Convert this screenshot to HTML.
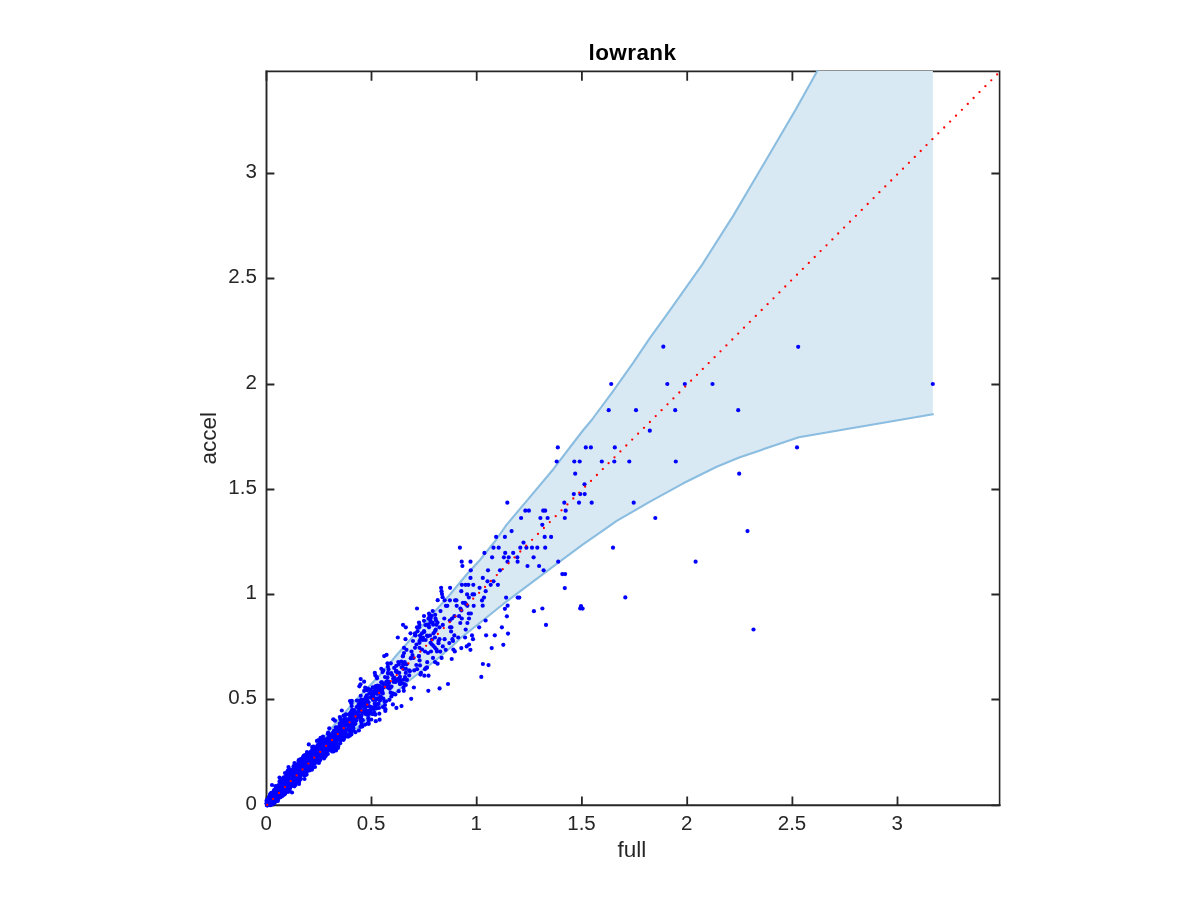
<!DOCTYPE html>
<html lang="en"><head><meta charset="utf-8"><title>lowrank</title>
<style>html,body{margin:0;padding:0;background:#fff;}body{width:1200px;height:900px;overflow:hidden;}svg{display:block;}text{font-family:"Liberation Sans",sans-serif;}.tk{font-size:20.5px;fill:#262626;}.lb{font-size:22.5px;fill:#262626;}.tt{font-size:22.5px;letter-spacing:0.4px;font-weight:bold;fill:#000;}</style></head><body>
<svg width="1200" height="900" viewBox="0 0 1200 900">
<rect width="1200" height="900" fill="#fff"/>
<g stroke="#262626" fill="none" stroke-linecap="square">
<path stroke-width="1.6" d="M266.5 71.4H999.6V805.3"/>
<path stroke-width="1.9" d="M266.5 71.4V805.3H999.6"/>
</g>
<g stroke="#262626" stroke-width="1.8" fill="none" stroke-linecap="butt">
<path d="M266.5 805.3V796.4M266.5 71.4V80.7M371.5 805.3V796.4M371.5 71.4V80.7M476.7 805.3V796.4M476.7 71.4V80.7M581.9 805.3V796.4M581.9 71.4V80.7M687.2 805.3V796.4M687.2 71.4V80.7M792.4 805.3V796.4M792.4 71.4V80.7M897.5 805.3V796.4M897.5 71.4V80.7M266.5 805.3H274.4M999.6 805.3H991.4M266.5 699.5H274.4M999.6 699.5H991.4M266.5 594.5H274.4M999.6 594.5H991.4M266.5 489.5H274.4M999.6 489.5H991.4M266.5 384.5H274.4M999.6 384.5H991.4M266.5 278.5H274.4M999.6 278.5H991.4M266.5 173.5H274.4M999.6 173.5H991.4"/>
</g>
<path fill="#D9E9F4" d="M266.5 805.3 L320 742 L341 717 L356.7 699.2 L380 675 L396.7 655 L410 640 L430 617 L450 594.5 L467.5 573.5 L480 560 L496 540 L506.7 524.7 L528 499.3 L553.3 469.2 L573.3 443 L583.3 430 L591.7 420 L613.3 390.8 L633.3 362.7 L650 337.9 L671.1 308.6 L702.2 264.6 L733.3 215.6 L764.5 162.7 L795.6 109.8 L817.3 70.9 L932.9 70.9 L932.9 414.3 L798.8 437.2 L739.2 457.5 L716.7 466.7 L683.3 483.3 L650 501.7 L616.7 520.8 L600 532.7 L583.3 544.2 L560 561.3 L533.3 581.3 L506.7 601.3 L480 622.7 L460 638.5 L453.3 645.3 L436 660 L406.7 682.5 L380 706.7 L356.7 728.3 L338 744 L325 755 L266.5 805.3 Z"/>
<g fill="none" stroke="#8ABDE0" stroke-width="2.1" stroke-linejoin="round" stroke-linecap="round">
<path d="M266.5 805.3 L320 742 L341 717 L356.7 699.2 L380 675 L396.7 655 L410 640 L430 617 L450 594.5 L467.5 573.5 L480 560 L496 540 L506.7 524.7 L528 499.3 L553.3 469.2 L573.3 443 L583.3 430 L591.7 420 L613.3 390.8 L633.3 362.7 L650 337.9 L671.1 308.6 L702.2 264.6 L733.3 215.6 L764.5 162.7 L795.6 109.8 L817.3 70.9"/>
<path d="M266.5 805.3 L325 755 L338 744 L356.7 728.3 L380 706.7 L406.7 682.5 L436 660 L453.3 645.3 L460 638.5 L480 622.7 L506.7 601.3 L533.3 581.3 L560 561.3 L583.3 544.2 L600 532.7 L616.7 520.8 L650 501.7 L683.3 483.3 L716.7 466.7 L739.2 457.5 L798.8 437.2 L932.9 414.3"/>
</g>
<g fill="#0000FF">
<circle cx="798.2" cy="346.8" r="2.1"/>
<circle cx="712.5" cy="384" r="2.1"/>
<circle cx="932.8" cy="384" r="2.1"/>
<circle cx="738.2" cy="410.2" r="2.1"/>
<circle cx="797" cy="447.4" r="2.1"/>
<circle cx="739.2" cy="473.7" r="2.1"/>
<circle cx="663.3" cy="346.7" r="2.1"/>
<circle cx="611.2" cy="384" r="2.1"/>
<circle cx="667.3" cy="384" r="2.1"/>
<circle cx="684.8" cy="384" r="2.1"/>
<circle cx="608.7" cy="410.2" r="2.1"/>
<circle cx="636" cy="410.2" r="2.1"/>
<circle cx="675.2" cy="410.2" r="2.1"/>
<circle cx="649.8" cy="430.7" r="2.1"/>
<circle cx="557.8" cy="447.4" r="2.1"/>
<circle cx="585.8" cy="447.4" r="2.1"/>
<circle cx="590.9" cy="447.4" r="2.1"/>
<circle cx="614.8" cy="447.4" r="2.1"/>
<circle cx="556.7" cy="461.5" r="2.1"/>
<circle cx="574.3" cy="461.5" r="2.1"/>
<circle cx="579.7" cy="461.5" r="2.1"/>
<circle cx="601.8" cy="461.5" r="2.1"/>
<circle cx="614.3" cy="461.5" r="2.1"/>
<circle cx="629.3" cy="461.5" r="2.1"/>
<circle cx="675.8" cy="461.5" r="2.1"/>
<circle cx="575.2" cy="473.7" r="2.1"/>
<circle cx="584.5" cy="484.3" r="2.1"/>
<circle cx="573.8" cy="494.1" r="2.1"/>
<circle cx="580.3" cy="494.1" r="2.1"/>
<circle cx="584.7" cy="494.1" r="2.1"/>
<circle cx="564.3" cy="502.7" r="2.1"/>
<circle cx="579" cy="502.7" r="2.1"/>
<circle cx="591.7" cy="502.7" r="2.1"/>
<circle cx="633.7" cy="502.7" r="2.1"/>
<circle cx="565.7" cy="510.7" r="2.1"/>
<circle cx="564.8" cy="518" r="2.1"/>
<circle cx="655.3" cy="518" r="2.1"/>
<circle cx="747.5" cy="531.1" r="2.1"/>
<circle cx="551.1" cy="536.9" r="2.1"/>
<circle cx="613" cy="547.7" r="2.1"/>
<circle cx="558.2" cy="561.7" r="2.1"/>
<circle cx="695.6" cy="561.7" r="2.1"/>
<circle cx="562.3" cy="574.1" r="2.1"/>
<circle cx="565.1" cy="574.1" r="2.1"/>
<circle cx="564.8" cy="588.1" r="2.1"/>
<circle cx="625.3" cy="597.4" r="2.1"/>
<circle cx="581" cy="606" r="2.1"/>
<circle cx="582.6" cy="608.6" r="2.1"/>
<circle cx="580.2" cy="608.4" r="2.1"/>
<circle cx="753.5" cy="629.5" r="2.1"/>
<circle cx="507.3" cy="502.7" r="2.1"/>
<circle cx="525.3" cy="510.7" r="2.1"/>
<circle cx="528.9" cy="510.7" r="2.1"/>
<circle cx="543.2" cy="510.7" r="2.1"/>
<circle cx="545.2" cy="510.7" r="2.1"/>
<circle cx="521.1" cy="518" r="2.1"/>
<circle cx="540.4" cy="518" r="2.1"/>
<circle cx="547.6" cy="518" r="2.1"/>
<circle cx="542.3" cy="524.8" r="2.1"/>
<circle cx="511.6" cy="531.1" r="2.1"/>
<circle cx="496.1" cy="536.9" r="2.1"/>
<circle cx="504.9" cy="536.9" r="2.1"/>
<circle cx="544.7" cy="536.9" r="2.1"/>
<circle cx="523.5" cy="542.6" r="2.1"/>
<circle cx="459.9" cy="547.7" r="2.1"/>
<circle cx="493.5" cy="547.7" r="2.1"/>
<circle cx="498.7" cy="547.7" r="2.1"/>
<circle cx="520.3" cy="547.7" r="2.1"/>
<circle cx="526.4" cy="547.7" r="2.1"/>
<circle cx="532" cy="547.7" r="2.1"/>
<circle cx="537.3" cy="547.7" r="2.1"/>
<circle cx="545.2" cy="547.7" r="2.1"/>
<circle cx="484.4" cy="552.9" r="2.1"/>
<circle cx="505.2" cy="552.9" r="2.1"/>
<circle cx="513.2" cy="552.9" r="2.1"/>
<circle cx="492.1" cy="557.3" r="2.1"/>
<circle cx="503.9" cy="557.3" r="2.1"/>
<circle cx="508.7" cy="557.3" r="2.1"/>
<circle cx="517.3" cy="557.3" r="2.1"/>
<circle cx="533.6" cy="557.3" r="2.1"/>
<circle cx="461.7" cy="561.7" r="2.1"/>
<circle cx="470.5" cy="561.7" r="2.1"/>
<circle cx="507.5" cy="561.7" r="2.1"/>
<circle cx="517.6" cy="561.7" r="2.1"/>
<circle cx="462.4" cy="566" r="2.1"/>
<circle cx="527.5" cy="566" r="2.1"/>
<circle cx="539.1" cy="566" r="2.1"/>
<circle cx="470.8" cy="570.3" r="2.1"/>
<circle cx="488" cy="570.3" r="2.1"/>
<circle cx="500" cy="570.3" r="2.1"/>
<circle cx="543.6" cy="570.3" r="2.1"/>
<circle cx="470.5" cy="577.9" r="2.1"/>
<circle cx="482.8" cy="577.9" r="2.1"/>
<circle cx="487.5" cy="581.3" r="2.1"/>
<circle cx="493.5" cy="581.3" r="2.1"/>
<circle cx="461.9" cy="584.8" r="2.1"/>
<circle cx="465.6" cy="584.8" r="2.1"/>
<circle cx="468.3" cy="584.8" r="2.1"/>
<circle cx="473.3" cy="584.8" r="2.1"/>
<circle cx="490.7" cy="584.8" r="2.1"/>
<circle cx="497.9" cy="584.8" r="2.1"/>
<circle cx="441.1" cy="587.8" r="2.1"/>
<circle cx="450.1" cy="587.8" r="2.1"/>
<circle cx="479.6" cy="587.8" r="2.1"/>
<circle cx="441.5" cy="591.2" r="2.1"/>
<circle cx="461.3" cy="591.2" r="2.1"/>
<circle cx="485.7" cy="591.2" r="2.1"/>
<circle cx="442" cy="594.1" r="2.1"/>
<circle cx="467.1" cy="594.4" r="2.1"/>
<circle cx="472.5" cy="594.4" r="2.1"/>
<circle cx="474.1" cy="594.4" r="2.1"/>
<circle cx="442.6" cy="597.2" r="2.1"/>
<circle cx="468.9" cy="597.5" r="2.1"/>
<circle cx="484" cy="597.6" r="2.1"/>
<circle cx="506.1" cy="597.6" r="2.1"/>
<circle cx="517.7" cy="597.6" r="2.1"/>
<circle cx="519.3" cy="597.6" r="2.1"/>
<circle cx="444.7" cy="600.3" r="2.1"/>
<circle cx="449.9" cy="600.3" r="2.1"/>
<circle cx="455.1" cy="600.3" r="2.1"/>
<circle cx="456.4" cy="600.3" r="2.1"/>
<circle cx="482" cy="600.4" r="2.1"/>
<circle cx="437.7" cy="600.2" r="2.1"/>
<circle cx="462.9" cy="602.8" r="2.1"/>
<circle cx="464.9" cy="602.8" r="2.1"/>
<circle cx="466.2" cy="604.4" r="2.1"/>
<circle cx="445.9" cy="605.8" r="2.1"/>
<circle cx="447.3" cy="605.8" r="2.1"/>
<circle cx="456.7" cy="605.8" r="2.1"/>
<circle cx="467.4" cy="605.8" r="2.1"/>
<circle cx="473.7" cy="605.8" r="2.1"/>
<circle cx="482.7" cy="605.7" r="2.1"/>
<circle cx="507.6" cy="605.7" r="2.1"/>
<circle cx="460.4" cy="608.5" r="2.1"/>
<circle cx="504.9" cy="608.8" r="2.1"/>
<circle cx="542.4" cy="608.5" r="2.1"/>
<circle cx="417" cy="608.5" r="2.1"/>
<circle cx="461.4" cy="610.4" r="2.1"/>
<circle cx="440.5" cy="611.1" r="2.1"/>
<circle cx="533.9" cy="611.2" r="2.1"/>
<circle cx="432.7" cy="611" r="2.1"/>
<circle cx="468.8" cy="613.5" r="2.1"/>
<circle cx="470.9" cy="613.5" r="2.1"/>
<circle cx="429" cy="613.5" r="2.1"/>
<circle cx="454.4" cy="616.2" r="2.1"/>
<circle cx="459.1" cy="616.2" r="2.1"/>
<circle cx="506.9" cy="616.3" r="2.1"/>
<circle cx="424" cy="616" r="2.1"/>
<circle cx="429.5" cy="616" r="2.1"/>
<circle cx="444.3" cy="618.5" r="2.1"/>
<circle cx="452" cy="618.5" r="2.1"/>
<circle cx="461.8" cy="618.5" r="2.1"/>
<circle cx="469" cy="618.5" r="2.1"/>
<circle cx="428.5" cy="618.5" r="2.1"/>
<circle cx="430.5" cy="618.5" r="2.1"/>
<circle cx="435.5" cy="618.5" r="2.1"/>
<circle cx="449.8" cy="620.6" r="2.1"/>
<circle cx="485.6" cy="620.5" r="2.1"/>
<circle cx="424" cy="620.8" r="2.1"/>
<circle cx="436" cy="620.5" r="2.1"/>
<circle cx="460.3" cy="623" r="2.1"/>
<circle cx="467.4" cy="623" r="2.1"/>
<circle cx="419" cy="622.5" r="2.1"/>
<circle cx="430.5" cy="622.5" r="2.1"/>
<circle cx="432.5" cy="622.5" r="2.1"/>
<circle cx="437.5" cy="622.5" r="2.1"/>
<circle cx="442.8" cy="624.9" r="2.1"/>
<circle cx="546" cy="624.9" r="2.1"/>
<circle cx="403" cy="624.8" r="2.1"/>
<circle cx="419.5" cy="624.8" r="2.1"/>
<circle cx="428" cy="624.8" r="2.1"/>
<circle cx="436.5" cy="624.8" r="2.1"/>
<circle cx="450" cy="627.3" r="2.1"/>
<circle cx="451.4" cy="627.3" r="2.1"/>
<circle cx="479.2" cy="627.3" r="2.1"/>
<circle cx="501.9" cy="627.3" r="2.1"/>
<circle cx="405.8" cy="627.3" r="2.1"/>
<circle cx="417" cy="627.3" r="2.1"/>
<circle cx="419" cy="627.3" r="2.1"/>
<circle cx="429" cy="627.3" r="2.1"/>
<circle cx="439.5" cy="627.3" r="2.1"/>
<circle cx="465.7" cy="629.6" r="2.1"/>
<circle cx="435.8" cy="629.7" r="2.1"/>
<circle cx="451.1" cy="631.5" r="2.1"/>
<circle cx="417.5" cy="631.2" r="2.1"/>
<circle cx="424" cy="631.2" r="2.1"/>
<circle cx="435" cy="631.2" r="2.1"/>
<circle cx="508" cy="633.6" r="2.1"/>
<circle cx="410.5" cy="633.3" r="2.1"/>
<circle cx="415" cy="633.3" r="2.1"/>
<circle cx="422" cy="633.3" r="2.1"/>
<circle cx="433.5" cy="633.3" r="2.1"/>
<circle cx="454.3" cy="635.4" r="2.1"/>
<circle cx="472" cy="635.4" r="2.1"/>
<circle cx="486.1" cy="635.3" r="2.1"/>
<circle cx="494.8" cy="635.3" r="2.1"/>
<circle cx="415.5" cy="635.5" r="2.1"/>
<circle cx="420" cy="635.5" r="2.1"/>
<circle cx="427" cy="635.5" r="2.1"/>
<circle cx="430" cy="635.5" r="2.1"/>
<circle cx="458.2" cy="637.5" r="2.1"/>
<circle cx="465.1" cy="637.5" r="2.1"/>
<circle cx="397.8" cy="637.5" r="2.1"/>
<circle cx="421" cy="637.5" r="2.1"/>
<circle cx="423" cy="637.5" r="2.1"/>
<circle cx="435" cy="637.5" r="2.1"/>
<circle cx="444.6" cy="639.2" r="2.1"/>
<circle cx="452.4" cy="639.2" r="2.1"/>
<circle cx="473" cy="639.2" r="2.1"/>
<circle cx="405.5" cy="639.2" r="2.1"/>
<circle cx="420.5" cy="639.2" r="2.1"/>
<circle cx="432" cy="639.5" r="2.1"/>
<circle cx="439.5" cy="639.2" r="2.1"/>
<circle cx="453" cy="641" r="2.1"/>
<circle cx="413" cy="641" r="2.1"/>
<circle cx="438.5" cy="641" r="2.1"/>
<circle cx="449.3" cy="643.1" r="2.1"/>
<circle cx="419.5" cy="642.8" r="2.1"/>
<circle cx="430.5" cy="642.8" r="2.1"/>
<circle cx="438.5" cy="643.2" r="2.1"/>
<circle cx="469" cy="644.6" r="2.1"/>
<circle cx="503.3" cy="644.8" r="2.1"/>
<circle cx="416.5" cy="644.5" r="2.1"/>
<circle cx="432" cy="644.5" r="2.1"/>
<circle cx="442.8" cy="646.4" r="2.1"/>
<circle cx="466.7" cy="646.4" r="2.1"/>
<circle cx="433.5" cy="646" r="2.1"/>
<circle cx="461.3" cy="648.1" r="2.1"/>
<circle cx="491.7" cy="648.1" r="2.1"/>
<circle cx="404" cy="647.8" r="2.1"/>
<circle cx="415" cy="647.8" r="2.1"/>
<circle cx="419.5" cy="647.8" r="2.1"/>
<circle cx="435" cy="647.8" r="2.1"/>
<circle cx="445.7" cy="649.8" r="2.1"/>
<circle cx="453.4" cy="649.5" r="2.1"/>
<circle cx="470.4" cy="649.8" r="2.1"/>
<circle cx="406.5" cy="649.8" r="2.1"/>
<circle cx="422" cy="649.5" r="2.1"/>
<circle cx="436.5" cy="649.5" r="2.1"/>
<circle cx="454.8" cy="651.4" r="2.1"/>
<circle cx="440.3" cy="651.6" r="2.1"/>
<circle cx="411.5" cy="651.5" r="2.1"/>
<circle cx="425" cy="651.5" r="2.1"/>
<circle cx="431" cy="651.5" r="2.1"/>
<circle cx="437" cy="651.5" r="2.1"/>
<circle cx="404" cy="653" r="2.1"/>
<circle cx="428" cy="653" r="2.1"/>
<circle cx="386.6" cy="654.8" r="2.1"/>
<circle cx="384.2" cy="656.1" r="2.1"/>
<circle cx="403" cy="656" r="2.1"/>
<circle cx="412.5" cy="655" r="2.1"/>
<circle cx="419" cy="656" r="2.1"/>
<circle cx="402.9" cy="656.3" r="2.1"/>
<circle cx="418.8" cy="656.3" r="2.1"/>
<circle cx="441.6" cy="657.9" r="2.1"/>
<circle cx="433" cy="657.9" r="2.1"/>
<circle cx="411" cy="658" r="2.1"/>
<circle cx="413.5" cy="658" r="2.1"/>
<circle cx="410.8" cy="658.3" r="2.1"/>
<circle cx="451.7" cy="659" r="2.1"/>
<circle cx="419.6" cy="660.4" r="2.1"/>
<circle cx="435" cy="662.1" r="2.1"/>
<circle cx="427.2" cy="662.2" r="2.1"/>
<circle cx="398.3" cy="662.1" r="2.1"/>
<circle cx="401.3" cy="661.7" r="2.1"/>
<circle cx="404.6" cy="662.1" r="2.1"/>
<circle cx="437.6" cy="663.7" r="2.1"/>
<circle cx="387.5" cy="663.3" r="2.1"/>
<circle cx="390.8" cy="663.3" r="2.1"/>
<circle cx="482.9" cy="664" r="2.1"/>
<circle cx="403.3" cy="664.6" r="2.1"/>
<circle cx="416.3" cy="665" r="2.1"/>
<circle cx="420" cy="665.4" r="2.1"/>
<circle cx="488.5" cy="665.1" r="2.1"/>
<circle cx="396.3" cy="665.8" r="2.1"/>
<circle cx="387.9" cy="666.7" r="2.1"/>
<circle cx="426.3" cy="667.6" r="2.1"/>
<circle cx="394.2" cy="667.9" r="2.1"/>
<circle cx="401.7" cy="667.5" r="2.1"/>
<circle cx="381.3" cy="668.8" r="2.1"/>
<circle cx="425" cy="669.2" r="2.1"/>
<circle cx="417.1" cy="669.2" r="2.1"/>
<circle cx="383.3" cy="670.4" r="2.1"/>
<circle cx="409.2" cy="670.4" r="2.1"/>
<circle cx="414.2" cy="670.4" r="2.1"/>
<circle cx="396.3" cy="670.8" r="2.1"/>
<circle cx="382.5" cy="672.1" r="2.1"/>
<circle cx="421" cy="672.8" r="2.1"/>
<circle cx="387.9" cy="672.9" r="2.1"/>
<circle cx="374.8" cy="672.9" r="2.1"/>
<circle cx="399.2" cy="672.9" r="2.1"/>
<circle cx="405.8" cy="672.9" r="2.1"/>
<circle cx="420.4" cy="674.6" r="2.1"/>
<circle cx="392.1" cy="675" r="2.1"/>
<circle cx="375.4" cy="675.4" r="2.1"/>
<circle cx="409.2" cy="675.4" r="2.1"/>
<circle cx="424.3" cy="675.7" r="2.1"/>
<circle cx="428.5" cy="675.7" r="2.1"/>
<circle cx="481.3" cy="676.9" r="2.1"/>
<circle cx="376.7" cy="677.1" r="2.1"/>
<circle cx="385" cy="677.1" r="2.1"/>
<circle cx="387.5" cy="677.5" r="2.1"/>
<circle cx="405" cy="677.1" r="2.1"/>
<circle cx="394.2" cy="677.5" r="2.1"/>
<circle cx="360.7" cy="679.1" r="2.1"/>
<circle cx="406.7" cy="679.6" r="2.1"/>
<circle cx="364.1" cy="681.7" r="2.1"/>
<circle cx="400" cy="681.7" r="2.1"/>
<circle cx="395.8" cy="681.7" r="2.1"/>
<circle cx="400.4" cy="683.8" r="2.1"/>
<circle cx="448" cy="684" r="2.1"/>
<circle cx="360.5" cy="684.3" r="2.1"/>
<circle cx="405.8" cy="685" r="2.1"/>
<circle cx="359.4" cy="686.3" r="2.1"/>
<circle cx="413.9" cy="687.5" r="2.1"/>
<circle cx="439.6" cy="688.4" r="2.1"/>
<circle cx="364.2" cy="690.8" r="2.1"/>
<circle cx="403.8" cy="690.8" r="2.1"/>
<circle cx="428.3" cy="690.8" r="2.1"/>
<circle cx="360.7" cy="695.8" r="2.1"/>
<circle cx="411.2" cy="698.8" r="2.1"/>
<circle cx="350" cy="701" r="2.1"/>
<circle cx="351.8" cy="700.9" r="2.1"/>
<circle cx="351.3" cy="703.3" r="2.1"/>
<circle cx="392.9" cy="704.4" r="2.1"/>
<circle cx="385" cy="705" r="2.1"/>
<circle cx="401.5" cy="706.1" r="2.1"/>
<circle cx="382.9" cy="707.1" r="2.1"/>
<circle cx="396.4" cy="707.9" r="2.1"/>
<circle cx="385.4" cy="709.2" r="2.1"/>
<circle cx="341.8" cy="710.5" r="2.1"/>
<circle cx="385.3" cy="711" r="2.1"/>
<circle cx="379.3" cy="713.7" r="2.1"/>
<circle cx="368.3" cy="718.3" r="2.1"/>
<circle cx="333.3" cy="719.3" r="2.1"/>
<circle cx="371.3" cy="719.5" r="2.1"/>
<circle cx="379.6" cy="719.7" r="2.1"/>
<circle cx="335" cy="720.7" r="2.1"/>
<circle cx="375.8" cy="721.2" r="2.1"/>
<circle cx="367.7" cy="723.5" r="2.1"/>
<circle cx="368.8" cy="723.8" r="2.1"/>
<circle cx="365.2" cy="724.6" r="2.1"/>
<circle cx="358.9" cy="730.4" r="2.1"/>
<circle cx="355.4" cy="732.2" r="2.1"/>
<circle cx="351.3" cy="733.9" r="2.1"/>
<circle cx="344.3" cy="736.8" r="2.1"/>
<circle cx="340.8" cy="740.3" r="2.1"/>
<circle cx="316.9" cy="740.9" r="2.1"/>
<circle cx="308.8" cy="744.4" r="2.1"/>
<circle cx="323" cy="736.5" r="2.1"/>
<circle cx="307" cy="752" r="2.1"/>
<circle cx="304" cy="756" r="2.1"/>
<circle cx="294.5" cy="763" r="2.1"/>
<circle cx="288.5" cy="767" r="2.1"/>
<circle cx="285" cy="773" r="2.1"/>
<circle cx="279.5" cy="777.5" r="2.1"/>
<circle cx="272" cy="785" r="2.1"/>
<circle cx="292" cy="792.5" r="2.1"/>
<circle cx="304.5" cy="779" r="2.1"/>
<circle cx="299" cy="784" r="2.1"/>
<circle cx="315" cy="767" r="2.1"/>
<circle cx="324" cy="758.5" r="2.1"/>
<circle cx="338" cy="748" r="2.1"/>
<circle cx="336" cy="750.5" r="2.1"/>
<circle cx="298.1" cy="779.4" r="2.1"/>
<circle cx="269.9" cy="799.1" r="2.1"/>
<circle cx="270.3" cy="800.7" r="2.1"/>
<circle cx="309.7" cy="762.4" r="2.1"/>
<circle cx="307.9" cy="761.2" r="2.1"/>
<circle cx="282" cy="784.3" r="2.1"/>
<circle cx="271.1" cy="800.4" r="2.1"/>
<circle cx="279.8" cy="795" r="2.1"/>
<circle cx="327.2" cy="746.2" r="2.1"/>
<circle cx="282" cy="784.5" r="2.1"/>
<circle cx="290.3" cy="773.9" r="2.1"/>
<circle cx="293.9" cy="772.2" r="2.1"/>
<circle cx="283.2" cy="781.8" r="2.1"/>
<circle cx="292.9" cy="778.8" r="2.1"/>
<circle cx="306.2" cy="761.5" r="2.1"/>
<circle cx="321.8" cy="755.8" r="2.1"/>
<circle cx="378.9" cy="692.9" r="2.1"/>
<circle cx="350.3" cy="713.2" r="2.1"/>
<circle cx="313.4" cy="755.3" r="2.1"/>
<circle cx="367.6" cy="714.2" r="2.1"/>
<circle cx="286.8" cy="782.9" r="2.1"/>
<circle cx="267.1" cy="803.8" r="2.1"/>
<circle cx="279.9" cy="797.4" r="2.1"/>
<circle cx="276.8" cy="797.4" r="2.1"/>
<circle cx="287.3" cy="781.8" r="2.1"/>
<circle cx="279.5" cy="794.7" r="2.1"/>
<circle cx="281.5" cy="785.2" r="2.1"/>
<circle cx="292.3" cy="781.8" r="2.1"/>
<circle cx="298.3" cy="765.4" r="2.1"/>
<circle cx="348.3" cy="736.6" r="2.1"/>
<circle cx="383.8" cy="687.3" r="2.1"/>
<circle cx="345" cy="731.2" r="2.1"/>
<circle cx="279" cy="792.6" r="2.1"/>
<circle cx="306.9" cy="771.5" r="2.1"/>
<circle cx="337.8" cy="738.3" r="2.1"/>
<circle cx="304.7" cy="775.4" r="2.1"/>
<circle cx="311.2" cy="757.7" r="2.1"/>
<circle cx="273.4" cy="798.7" r="2.1"/>
<circle cx="277.5" cy="793" r="2.1"/>
<circle cx="330.6" cy="747.6" r="2.1"/>
<circle cx="353.6" cy="718.4" r="2.1"/>
<circle cx="378.4" cy="688.7" r="2.1"/>
<circle cx="288.5" cy="781.1" r="2.1"/>
<circle cx="282.2" cy="785.2" r="2.1"/>
<circle cx="270.1" cy="803.3" r="2.1"/>
<circle cx="280.6" cy="784.8" r="2.1"/>
<circle cx="299.9" cy="772.9" r="2.1"/>
<circle cx="283.8" cy="792.7" r="2.1"/>
<circle cx="270.3" cy="794.1" r="2.1"/>
<circle cx="317.6" cy="762" r="2.1"/>
<circle cx="292.7" cy="776.3" r="2.1"/>
<circle cx="365.6" cy="711" r="2.1"/>
<circle cx="398.9" cy="664.5" r="2.1"/>
<circle cx="295.9" cy="771.3" r="2.1"/>
<circle cx="269.8" cy="803.8" r="2.1"/>
<circle cx="326.3" cy="747.2" r="2.1"/>
<circle cx="283.8" cy="789.8" r="2.1"/>
<circle cx="284.3" cy="782.7" r="2.1"/>
<circle cx="311.9" cy="769.7" r="2.1"/>
<circle cx="293.3" cy="772.8" r="2.1"/>
<circle cx="310.3" cy="761.2" r="2.1"/>
<circle cx="322.4" cy="748" r="2.1"/>
<circle cx="309.3" cy="761.2" r="2.1"/>
<circle cx="375.9" cy="686.8" r="2.1"/>
<circle cx="325" cy="748.8" r="2.1"/>
<circle cx="327.6" cy="742.4" r="2.1"/>
<circle cx="328" cy="747" r="2.1"/>
<circle cx="367.2" cy="690.2" r="2.1"/>
<circle cx="306.1" cy="757.6" r="2.1"/>
<circle cx="318.4" cy="747" r="2.1"/>
<circle cx="313.7" cy="749.3" r="2.1"/>
<circle cx="280.6" cy="779" r="2.1"/>
<circle cx="291.1" cy="786.3" r="2.1"/>
<circle cx="278" cy="788.4" r="2.1"/>
<circle cx="283.3" cy="788.6" r="2.1"/>
<circle cx="287.8" cy="785.3" r="2.1"/>
<circle cx="323.2" cy="754.2" r="2.1"/>
<circle cx="276.3" cy="793.3" r="2.1"/>
<circle cx="297.6" cy="776.3" r="2.1"/>
<circle cx="356.6" cy="707.1" r="2.1"/>
<circle cx="322.5" cy="753" r="2.1"/>
<circle cx="269.8" cy="800.7" r="2.1"/>
<circle cx="271.5" cy="797.5" r="2.1"/>
<circle cx="270" cy="798.7" r="2.1"/>
<circle cx="275.1" cy="798.4" r="2.1"/>
<circle cx="389.4" cy="681.9" r="2.1"/>
<circle cx="288.3" cy="770.3" r="2.1"/>
<circle cx="292.1" cy="784.3" r="2.1"/>
<circle cx="287.9" cy="785.6" r="2.1"/>
<circle cx="270.9" cy="803.1" r="2.1"/>
<circle cx="293.1" cy="774" r="2.1"/>
<circle cx="319.6" cy="756.1" r="2.1"/>
<circle cx="267.8" cy="804.2" r="2.1"/>
<circle cx="368.1" cy="712.6" r="2.1"/>
<circle cx="275.9" cy="794.3" r="2.1"/>
<circle cx="319.2" cy="750.3" r="2.1"/>
<circle cx="315" cy="758.1" r="2.1"/>
<circle cx="354.2" cy="716.3" r="2.1"/>
<circle cx="271.2" cy="801.6" r="2.1"/>
<circle cx="369.1" cy="706.2" r="2.1"/>
<circle cx="350" cy="726.4" r="2.1"/>
<circle cx="314.2" cy="761.9" r="2.1"/>
<circle cx="286.2" cy="780.9" r="2.1"/>
<circle cx="293.2" cy="776.7" r="2.1"/>
<circle cx="297" cy="768.9" r="2.1"/>
<circle cx="282.6" cy="788.1" r="2.1"/>
<circle cx="291.8" cy="783.5" r="2.1"/>
<circle cx="271.3" cy="802.3" r="2.1"/>
<circle cx="282.3" cy="782.8" r="2.1"/>
<circle cx="367.9" cy="688.6" r="2.1"/>
<circle cx="306" cy="772.1" r="2.1"/>
<circle cx="349.2" cy="718.9" r="2.1"/>
<circle cx="341.5" cy="728.8" r="2.1"/>
<circle cx="314.2" cy="749.2" r="2.1"/>
<circle cx="337.6" cy="735.2" r="2.1"/>
<circle cx="358.1" cy="717.2" r="2.1"/>
<circle cx="304.7" cy="775.1" r="2.1"/>
<circle cx="323.5" cy="739.5" r="2.1"/>
<circle cx="361.8" cy="719.9" r="2.1"/>
<circle cx="361.1" cy="699.8" r="2.1"/>
<circle cx="271.4" cy="798.4" r="2.1"/>
<circle cx="271.9" cy="803.1" r="2.1"/>
<circle cx="280.2" cy="787.8" r="2.1"/>
<circle cx="312.2" cy="749.9" r="2.1"/>
<circle cx="340.8" cy="734.6" r="2.1"/>
<circle cx="287.7" cy="779.7" r="2.1"/>
<circle cx="330.9" cy="742.4" r="2.1"/>
<circle cx="286.7" cy="776.3" r="2.1"/>
<circle cx="345" cy="720.2" r="2.1"/>
<circle cx="318.8" cy="763" r="2.1"/>
<circle cx="290.1" cy="787.2" r="2.1"/>
<circle cx="310.1" cy="762.3" r="2.1"/>
<circle cx="282.3" cy="786.2" r="2.1"/>
<circle cx="324" cy="748.7" r="2.1"/>
<circle cx="316.2" cy="754.9" r="2.1"/>
<circle cx="313.6" cy="755" r="2.1"/>
<circle cx="276.3" cy="795.7" r="2.1"/>
<circle cx="279.7" cy="793.7" r="2.1"/>
<circle cx="288.8" cy="781.4" r="2.1"/>
<circle cx="330.1" cy="742.2" r="2.1"/>
<circle cx="291.4" cy="780.9" r="2.1"/>
<circle cx="321.2" cy="754.8" r="2.1"/>
<circle cx="325.8" cy="744" r="2.1"/>
<circle cx="365.5" cy="697.8" r="2.1"/>
<circle cx="298.8" cy="781.7" r="2.1"/>
<circle cx="274.1" cy="795.4" r="2.1"/>
<circle cx="291.8" cy="783.3" r="2.1"/>
<circle cx="289" cy="776.3" r="2.1"/>
<circle cx="281" cy="793" r="2.1"/>
<circle cx="319.2" cy="761.6" r="2.1"/>
<circle cx="312.1" cy="761.6" r="2.1"/>
<circle cx="273" cy="799" r="2.1"/>
<circle cx="286.2" cy="788.6" r="2.1"/>
<circle cx="363.9" cy="705.3" r="2.1"/>
<circle cx="300.2" cy="769.9" r="2.1"/>
<circle cx="291.9" cy="779.8" r="2.1"/>
<circle cx="313.2" cy="746.7" r="2.1"/>
<circle cx="284" cy="789" r="2.1"/>
<circle cx="294.8" cy="769.1" r="2.1"/>
<circle cx="270.8" cy="804.2" r="2.1"/>
<circle cx="313.9" cy="756.5" r="2.1"/>
<circle cx="309" cy="763.8" r="2.1"/>
<circle cx="288.8" cy="784.5" r="2.1"/>
<circle cx="320.6" cy="743.8" r="2.1"/>
<circle cx="373.3" cy="696.2" r="2.1"/>
<circle cx="389.3" cy="686.3" r="2.1"/>
<circle cx="294.7" cy="779.3" r="2.1"/>
<circle cx="343.8" cy="730.7" r="2.1"/>
<circle cx="318.5" cy="747.3" r="2.1"/>
<circle cx="284.6" cy="785.5" r="2.1"/>
<circle cx="283.5" cy="779.8" r="2.1"/>
<circle cx="340.4" cy="728.3" r="2.1"/>
<circle cx="292.3" cy="782.1" r="2.1"/>
<circle cx="297.5" cy="777.4" r="2.1"/>
<circle cx="350.3" cy="729" r="2.1"/>
<circle cx="288.2" cy="786.1" r="2.1"/>
<circle cx="305.4" cy="761.1" r="2.1"/>
<circle cx="316.1" cy="758.9" r="2.1"/>
<circle cx="286.6" cy="790.6" r="2.1"/>
<circle cx="295.9" cy="776.9" r="2.1"/>
<circle cx="282.2" cy="792.5" r="2.1"/>
<circle cx="276.6" cy="794.4" r="2.1"/>
<circle cx="278.7" cy="793.9" r="2.1"/>
<circle cx="309.2" cy="762" r="2.1"/>
<circle cx="298.9" cy="782.5" r="2.1"/>
<circle cx="366.3" cy="697.2" r="2.1"/>
<circle cx="299.4" cy="771.1" r="2.1"/>
<circle cx="278" cy="794.8" r="2.1"/>
<circle cx="301.6" cy="764.8" r="2.1"/>
<circle cx="312.2" cy="763.2" r="2.1"/>
<circle cx="302.6" cy="768" r="2.1"/>
<circle cx="300.1" cy="769.7" r="2.1"/>
<circle cx="307.6" cy="758.6" r="2.1"/>
<circle cx="270.3" cy="802.3" r="2.1"/>
<circle cx="288" cy="775" r="2.1"/>
<circle cx="295.2" cy="782.7" r="2.1"/>
<circle cx="337.6" cy="729.2" r="2.1"/>
<circle cx="295.9" cy="780.5" r="2.1"/>
<circle cx="345.4" cy="730.5" r="2.1"/>
<circle cx="323.3" cy="753.8" r="2.1"/>
<circle cx="302" cy="771.6" r="2.1"/>
<circle cx="319.2" cy="752.7" r="2.1"/>
<circle cx="334.7" cy="739.2" r="2.1"/>
<circle cx="384.5" cy="701.6" r="2.1"/>
<circle cx="288" cy="783.7" r="2.1"/>
<circle cx="321.2" cy="755.4" r="2.1"/>
<circle cx="290.2" cy="782.3" r="2.1"/>
<circle cx="316.7" cy="749" r="2.1"/>
<circle cx="281.9" cy="787.1" r="2.1"/>
<circle cx="355.1" cy="714.7" r="2.1"/>
<circle cx="277.2" cy="793.6" r="2.1"/>
<circle cx="324.2" cy="747.6" r="2.1"/>
<circle cx="282.8" cy="790.6" r="2.1"/>
<circle cx="281.6" cy="790.1" r="2.1"/>
<circle cx="285.7" cy="781.9" r="2.1"/>
<circle cx="320" cy="758.9" r="2.1"/>
<circle cx="269.9" cy="797.8" r="2.1"/>
<circle cx="269.3" cy="803.1" r="2.1"/>
<circle cx="285.9" cy="788.5" r="2.1"/>
<circle cx="303.1" cy="766.2" r="2.1"/>
<circle cx="289.9" cy="773.8" r="2.1"/>
<circle cx="271.8" cy="794.8" r="2.1"/>
<circle cx="283.2" cy="787.7" r="2.1"/>
<circle cx="283.1" cy="792.1" r="2.1"/>
<circle cx="350.1" cy="726.5" r="2.1"/>
<circle cx="350.2" cy="723.6" r="2.1"/>
<circle cx="388.4" cy="687.6" r="2.1"/>
<circle cx="298" cy="764.8" r="2.1"/>
<circle cx="275.5" cy="801.3" r="2.1"/>
<circle cx="304.3" cy="767.9" r="2.1"/>
<circle cx="290.4" cy="774.8" r="2.1"/>
<circle cx="304.2" cy="765.8" r="2.1"/>
<circle cx="376.9" cy="708.1" r="2.1"/>
<circle cx="308.5" cy="759.5" r="2.1"/>
<circle cx="312.4" cy="758.8" r="2.1"/>
<circle cx="320.6" cy="737.8" r="2.1"/>
<circle cx="271.7" cy="796.6" r="2.1"/>
<circle cx="320.7" cy="754.8" r="2.1"/>
<circle cx="323.1" cy="748.9" r="2.1"/>
<circle cx="319.9" cy="744.8" r="2.1"/>
<circle cx="286.2" cy="787.9" r="2.1"/>
<circle cx="272.4" cy="800.2" r="2.1"/>
<circle cx="343.6" cy="739.8" r="2.1"/>
<circle cx="279.6" cy="789.5" r="2.1"/>
<circle cx="400.5" cy="680.2" r="2.1"/>
<circle cx="319.4" cy="751.6" r="2.1"/>
<circle cx="286" cy="776.2" r="2.1"/>
<circle cx="266.5" cy="800.8" r="2.1"/>
<circle cx="269.9" cy="801.5" r="2.1"/>
<circle cx="328.9" cy="734.6" r="2.1"/>
<circle cx="288.7" cy="779.3" r="2.1"/>
<circle cx="304.9" cy="759.3" r="2.1"/>
<circle cx="314.1" cy="761.9" r="2.1"/>
<circle cx="317" cy="760.8" r="2.1"/>
<circle cx="383.3" cy="698.6" r="2.1"/>
<circle cx="276.7" cy="798.6" r="2.1"/>
<circle cx="270.9" cy="799" r="2.1"/>
<circle cx="269" cy="801.5" r="2.1"/>
<circle cx="324.3" cy="752.8" r="2.1"/>
<circle cx="303" cy="768" r="2.1"/>
<circle cx="285.9" cy="788.4" r="2.1"/>
<circle cx="281.4" cy="784.9" r="2.1"/>
<circle cx="269.3" cy="803.2" r="2.1"/>
<circle cx="281.1" cy="790.7" r="2.1"/>
<circle cx="377" cy="678.3" r="2.1"/>
<circle cx="283.3" cy="791.1" r="2.1"/>
<circle cx="296.7" cy="776" r="2.1"/>
<circle cx="283.5" cy="790.1" r="2.1"/>
<circle cx="280.4" cy="789.7" r="2.1"/>
<circle cx="320.4" cy="745.4" r="2.1"/>
<circle cx="333.1" cy="738.7" r="2.1"/>
<circle cx="342.1" cy="727.1" r="2.1"/>
<circle cx="326.2" cy="746.5" r="2.1"/>
<circle cx="312.2" cy="766.3" r="2.1"/>
<circle cx="270.8" cy="800.1" r="2.1"/>
<circle cx="330.5" cy="735.8" r="2.1"/>
<circle cx="267.3" cy="805.3" r="2.1"/>
<circle cx="328.1" cy="732.7" r="2.1"/>
<circle cx="277.5" cy="798.4" r="2.1"/>
<circle cx="269.8" cy="803.6" r="2.1"/>
<circle cx="273.7" cy="798.2" r="2.1"/>
<circle cx="329.6" cy="737.9" r="2.1"/>
<circle cx="339.9" cy="734.7" r="2.1"/>
<circle cx="270.7" cy="793.8" r="2.1"/>
<circle cx="380.7" cy="692" r="2.1"/>
<circle cx="339.9" cy="733.5" r="2.1"/>
<circle cx="315.3" cy="758.1" r="2.1"/>
<circle cx="288.1" cy="782.7" r="2.1"/>
<circle cx="320.6" cy="749.9" r="2.1"/>
<circle cx="271" cy="800.4" r="2.1"/>
<circle cx="328.6" cy="744.2" r="2.1"/>
<circle cx="279.9" cy="785.9" r="2.1"/>
<circle cx="345.4" cy="732.2" r="2.1"/>
<circle cx="299.8" cy="779.9" r="2.1"/>
<circle cx="268.3" cy="802.8" r="2.1"/>
<circle cx="312.5" cy="753.5" r="2.1"/>
<circle cx="287.1" cy="787.1" r="2.1"/>
<circle cx="267.8" cy="805.1" r="2.1"/>
<circle cx="354" cy="710" r="2.1"/>
<circle cx="382.1" cy="698.5" r="2.1"/>
<circle cx="284.8" cy="786.1" r="2.1"/>
<circle cx="288.9" cy="787.7" r="2.1"/>
<circle cx="373.3" cy="698.7" r="2.1"/>
<circle cx="290.4" cy="781.6" r="2.1"/>
<circle cx="361.2" cy="716" r="2.1"/>
<circle cx="294.4" cy="781.8" r="2.1"/>
<circle cx="273.6" cy="798.4" r="2.1"/>
<circle cx="267.9" cy="804" r="2.1"/>
<circle cx="271.4" cy="803.8" r="2.1"/>
<circle cx="341.7" cy="728.1" r="2.1"/>
<circle cx="327.9" cy="744.7" r="2.1"/>
<circle cx="274.9" cy="796.5" r="2.1"/>
<circle cx="275.2" cy="797.9" r="2.1"/>
<circle cx="271.1" cy="799.8" r="2.1"/>
<circle cx="339.2" cy="726.9" r="2.1"/>
<circle cx="277.7" cy="799.7" r="2.1"/>
<circle cx="281.9" cy="790.7" r="2.1"/>
<circle cx="268" cy="805.1" r="2.1"/>
<circle cx="354.4" cy="724.4" r="2.1"/>
<circle cx="321.9" cy="748" r="2.1"/>
<circle cx="267.1" cy="803.9" r="2.1"/>
<circle cx="375.4" cy="686.3" r="2.1"/>
<circle cx="285.3" cy="785.5" r="2.1"/>
<circle cx="400" cy="676.8" r="2.1"/>
<circle cx="379.6" cy="686" r="2.1"/>
<circle cx="362.8" cy="720.2" r="2.1"/>
<circle cx="273.6" cy="795.3" r="2.1"/>
<circle cx="295.3" cy="773.5" r="2.1"/>
<circle cx="273.6" cy="798.1" r="2.1"/>
<circle cx="282.8" cy="794.4" r="2.1"/>
<circle cx="312.3" cy="758.3" r="2.1"/>
<circle cx="281.9" cy="785.8" r="2.1"/>
<circle cx="343.1" cy="730" r="2.1"/>
<circle cx="358.3" cy="707.7" r="2.1"/>
<circle cx="334.8" cy="743.9" r="2.1"/>
<circle cx="287.3" cy="787" r="2.1"/>
<circle cx="280.1" cy="794.3" r="2.1"/>
<circle cx="292.9" cy="774.3" r="2.1"/>
<circle cx="295.1" cy="772.7" r="2.1"/>
<circle cx="269" cy="802" r="2.1"/>
<circle cx="310.2" cy="766.7" r="2.1"/>
<circle cx="275.5" cy="799.1" r="2.1"/>
<circle cx="351" cy="712.1" r="2.1"/>
<circle cx="275.5" cy="791.9" r="2.1"/>
<circle cx="302.1" cy="759.4" r="2.1"/>
<circle cx="307.3" cy="769.3" r="2.1"/>
<circle cx="347.4" cy="721.3" r="2.1"/>
<circle cx="333.2" cy="735.2" r="2.1"/>
<circle cx="360.2" cy="717.7" r="2.1"/>
<circle cx="308.5" cy="756.3" r="2.1"/>
<circle cx="278.4" cy="785.4" r="2.1"/>
<circle cx="306.9" cy="768.4" r="2.1"/>
<circle cx="280.8" cy="785.1" r="2.1"/>
<circle cx="325.3" cy="753.2" r="2.1"/>
<circle cx="323.7" cy="741.8" r="2.1"/>
<circle cx="337.9" cy="728.1" r="2.1"/>
<circle cx="282.5" cy="784.2" r="2.1"/>
<circle cx="380.4" cy="696.8" r="2.1"/>
<circle cx="270.5" cy="803" r="2.1"/>
<circle cx="356" cy="719.4" r="2.1"/>
<circle cx="323.8" cy="756.1" r="2.1"/>
<circle cx="303.2" cy="768.8" r="2.1"/>
<circle cx="338.7" cy="728.5" r="2.1"/>
<circle cx="293.6" cy="766.2" r="2.1"/>
<circle cx="391" cy="687.1" r="2.1"/>
<circle cx="277.6" cy="792.9" r="2.1"/>
<circle cx="286.5" cy="789.6" r="2.1"/>
<circle cx="290.6" cy="782.8" r="2.1"/>
<circle cx="310" cy="758.1" r="2.1"/>
<circle cx="356.4" cy="720.1" r="2.1"/>
<circle cx="273" cy="796.7" r="2.1"/>
<circle cx="386.1" cy="682" r="2.1"/>
<circle cx="271.6" cy="804.4" r="2.1"/>
<circle cx="348.8" cy="727" r="2.1"/>
<circle cx="286.4" cy="781.8" r="2.1"/>
<circle cx="282.9" cy="789.8" r="2.1"/>
<circle cx="283.1" cy="788.7" r="2.1"/>
<circle cx="281.3" cy="784.8" r="2.1"/>
<circle cx="373.9" cy="698.5" r="2.1"/>
<circle cx="289" cy="783.5" r="2.1"/>
<circle cx="321" cy="755.4" r="2.1"/>
<circle cx="274.7" cy="793.6" r="2.1"/>
<circle cx="324.8" cy="746.6" r="2.1"/>
<circle cx="349.2" cy="730.5" r="2.1"/>
<circle cx="300.1" cy="773.7" r="2.1"/>
<circle cx="316.5" cy="754.4" r="2.1"/>
<circle cx="355.4" cy="720.1" r="2.1"/>
<circle cx="295" cy="770.7" r="2.1"/>
<circle cx="370.6" cy="697.6" r="2.1"/>
<circle cx="328.6" cy="741.4" r="2.1"/>
<circle cx="344" cy="729.5" r="2.1"/>
<circle cx="287.8" cy="775" r="2.1"/>
<circle cx="270.2" cy="801.6" r="2.1"/>
<circle cx="285.7" cy="787.1" r="2.1"/>
<circle cx="353" cy="721" r="2.1"/>
<circle cx="336.3" cy="727.3" r="2.1"/>
<circle cx="349.2" cy="714.4" r="2.1"/>
<circle cx="375.1" cy="699" r="2.1"/>
<circle cx="350.5" cy="717.2" r="2.1"/>
<circle cx="328.1" cy="746.9" r="2.1"/>
<circle cx="304.9" cy="766.9" r="2.1"/>
<circle cx="270.1" cy="800.8" r="2.1"/>
<circle cx="277.1" cy="792.5" r="2.1"/>
<circle cx="313.8" cy="760.4" r="2.1"/>
<circle cx="329" cy="738.7" r="2.1"/>
<circle cx="273.4" cy="795.7" r="2.1"/>
<circle cx="278.9" cy="792.8" r="2.1"/>
<circle cx="355.1" cy="718.5" r="2.1"/>
<circle cx="286.5" cy="781.7" r="2.1"/>
<circle cx="270.8" cy="798.1" r="2.1"/>
<circle cx="270.4" cy="795.9" r="2.1"/>
<circle cx="314.7" cy="757.1" r="2.1"/>
<circle cx="369.6" cy="711.4" r="2.1"/>
<circle cx="389.6" cy="688.7" r="2.1"/>
<circle cx="282" cy="788.8" r="2.1"/>
<circle cx="269.1" cy="802.7" r="2.1"/>
<circle cx="308" cy="759.2" r="2.1"/>
<circle cx="304" cy="758.7" r="2.1"/>
<circle cx="381" cy="692.4" r="2.1"/>
<circle cx="298.3" cy="769.5" r="2.1"/>
<circle cx="286.2" cy="780.1" r="2.1"/>
<circle cx="298.8" cy="764" r="2.1"/>
<circle cx="395.6" cy="681.8" r="2.1"/>
<circle cx="300.7" cy="759.5" r="2.1"/>
<circle cx="271.5" cy="798.8" r="2.1"/>
<circle cx="293.6" cy="775.4" r="2.1"/>
<circle cx="301.5" cy="774.7" r="2.1"/>
<circle cx="333.4" cy="735.9" r="2.1"/>
<circle cx="287.9" cy="776.5" r="2.1"/>
<circle cx="317.8" cy="762" r="2.1"/>
<circle cx="365.2" cy="687.7" r="2.1"/>
<circle cx="316.2" cy="750.4" r="2.1"/>
<circle cx="282.6" cy="791" r="2.1"/>
<circle cx="351.8" cy="712.5" r="2.1"/>
<circle cx="321.5" cy="751.3" r="2.1"/>
<circle cx="304.8" cy="772.4" r="2.1"/>
<circle cx="377.5" cy="685.6" r="2.1"/>
<circle cx="322.2" cy="750.2" r="2.1"/>
<circle cx="328.7" cy="750" r="2.1"/>
<circle cx="313.3" cy="760.6" r="2.1"/>
<circle cx="290.1" cy="783.2" r="2.1"/>
<circle cx="282" cy="790.5" r="2.1"/>
<circle cx="330.8" cy="740.6" r="2.1"/>
<circle cx="269.6" cy="799" r="2.1"/>
<circle cx="277.9" cy="795.1" r="2.1"/>
<circle cx="326.6" cy="739" r="2.1"/>
<circle cx="313" cy="759.7" r="2.1"/>
<circle cx="269.3" cy="804.1" r="2.1"/>
<circle cx="272.9" cy="803.8" r="2.1"/>
<circle cx="343.6" cy="715.7" r="2.1"/>
<circle cx="273.9" cy="798.6" r="2.1"/>
<circle cx="274.7" cy="795.4" r="2.1"/>
<circle cx="289.5" cy="788.3" r="2.1"/>
<circle cx="267.2" cy="803.3" r="2.1"/>
<circle cx="270.4" cy="801.9" r="2.1"/>
<circle cx="276.4" cy="794.2" r="2.1"/>
<circle cx="307.1" cy="765.3" r="2.1"/>
<circle cx="313.1" cy="754.5" r="2.1"/>
<circle cx="289.6" cy="787.8" r="2.1"/>
<circle cx="332.1" cy="751.5" r="2.1"/>
<circle cx="287.3" cy="782.4" r="2.1"/>
<circle cx="291.2" cy="778.1" r="2.1"/>
<circle cx="277.4" cy="791.4" r="2.1"/>
<circle cx="276.3" cy="795.9" r="2.1"/>
<circle cx="345" cy="723.2" r="2.1"/>
<circle cx="289.2" cy="785.4" r="2.1"/>
<circle cx="272.8" cy="802.6" r="2.1"/>
<circle cx="270.6" cy="799" r="2.1"/>
<circle cx="268.2" cy="802.6" r="2.1"/>
<circle cx="282.9" cy="793.8" r="2.1"/>
<circle cx="324" cy="752.9" r="2.1"/>
<circle cx="282.9" cy="785.6" r="2.1"/>
<circle cx="281.7" cy="785.3" r="2.1"/>
<circle cx="283.7" cy="789.1" r="2.1"/>
<circle cx="336.3" cy="738.1" r="2.1"/>
<circle cx="339.9" cy="728.4" r="2.1"/>
<circle cx="287.7" cy="790" r="2.1"/>
<circle cx="304.6" cy="763.7" r="2.1"/>
<circle cx="269.2" cy="803.1" r="2.1"/>
<circle cx="276.9" cy="794.5" r="2.1"/>
<circle cx="325.1" cy="754.9" r="2.1"/>
<circle cx="293.6" cy="771.7" r="2.1"/>
<circle cx="381.7" cy="689.8" r="2.1"/>
<circle cx="312.5" cy="753.2" r="2.1"/>
<circle cx="324.5" cy="749.9" r="2.1"/>
<circle cx="274.5" cy="801.7" r="2.1"/>
<circle cx="271.1" cy="804.6" r="2.1"/>
<circle cx="286.6" cy="789.1" r="2.1"/>
<circle cx="324" cy="739.8" r="2.1"/>
<circle cx="277.3" cy="794.1" r="2.1"/>
<circle cx="271.6" cy="803.4" r="2.1"/>
<circle cx="317.8" cy="754.7" r="2.1"/>
<circle cx="307.8" cy="769.1" r="2.1"/>
<circle cx="282.9" cy="785.4" r="2.1"/>
<circle cx="295.9" cy="770.8" r="2.1"/>
<circle cx="314.5" cy="755" r="2.1"/>
<circle cx="379.4" cy="698.8" r="2.1"/>
<circle cx="315.3" cy="760.7" r="2.1"/>
<circle cx="272" cy="800.5" r="2.1"/>
<circle cx="304.2" cy="760.5" r="2.1"/>
<circle cx="327" cy="750.1" r="2.1"/>
<circle cx="320.9" cy="752.5" r="2.1"/>
<circle cx="349.4" cy="723.3" r="2.1"/>
<circle cx="268.1" cy="801.5" r="2.1"/>
<circle cx="339.8" cy="717" r="2.1"/>
<circle cx="334.2" cy="731.8" r="2.1"/>
<circle cx="289.3" cy="784" r="2.1"/>
<circle cx="273.9" cy="795.3" r="2.1"/>
<circle cx="310.8" cy="757" r="2.1"/>
<circle cx="277.8" cy="796.9" r="2.1"/>
<circle cx="303.9" cy="767.9" r="2.1"/>
<circle cx="268.9" cy="797" r="2.1"/>
<circle cx="335.2" cy="732.1" r="2.1"/>
<circle cx="351.9" cy="710" r="2.1"/>
<circle cx="312.2" cy="759.8" r="2.1"/>
<circle cx="281.6" cy="785.8" r="2.1"/>
<circle cx="336.7" cy="739.5" r="2.1"/>
<circle cx="293.8" cy="779.1" r="2.1"/>
<circle cx="389.5" cy="699.8" r="2.1"/>
<circle cx="312.6" cy="762.4" r="2.1"/>
<circle cx="308.9" cy="759.1" r="2.1"/>
<circle cx="290.3" cy="784.3" r="2.1"/>
<circle cx="277.5" cy="794.8" r="2.1"/>
<circle cx="356.7" cy="712.9" r="2.1"/>
<circle cx="320.4" cy="743.7" r="2.1"/>
<circle cx="375.6" cy="688.6" r="2.1"/>
<circle cx="276.7" cy="794.7" r="2.1"/>
<circle cx="369.3" cy="693.5" r="2.1"/>
<circle cx="331.6" cy="736.7" r="2.1"/>
<circle cx="357" cy="713.8" r="2.1"/>
<circle cx="298.9" cy="773.8" r="2.1"/>
<circle cx="311" cy="763.4" r="2.1"/>
<circle cx="274.7" cy="791.6" r="2.1"/>
<circle cx="275.2" cy="797.3" r="2.1"/>
<circle cx="277" cy="790.9" r="2.1"/>
<circle cx="269.2" cy="805.1" r="2.1"/>
<circle cx="323.5" cy="750" r="2.1"/>
<circle cx="329.3" cy="747" r="2.1"/>
<circle cx="319.2" cy="746.7" r="2.1"/>
<circle cx="295.7" cy="769" r="2.1"/>
<circle cx="355.4" cy="723.7" r="2.1"/>
<circle cx="299.3" cy="763.9" r="2.1"/>
<circle cx="311" cy="756.7" r="2.1"/>
<circle cx="290.1" cy="771.4" r="2.1"/>
<circle cx="281.9" cy="787.8" r="2.1"/>
<circle cx="278.3" cy="794" r="2.1"/>
<circle cx="308.2" cy="766" r="2.1"/>
<circle cx="317.3" cy="751.1" r="2.1"/>
<circle cx="278.5" cy="786.9" r="2.1"/>
<circle cx="303.5" cy="771.3" r="2.1"/>
<circle cx="266.7" cy="803.9" r="2.1"/>
<circle cx="292.9" cy="776.6" r="2.1"/>
<circle cx="295.5" cy="773" r="2.1"/>
<circle cx="342.5" cy="722.7" r="2.1"/>
<circle cx="286.4" cy="777.9" r="2.1"/>
<circle cx="328.6" cy="742.3" r="2.1"/>
<circle cx="279.1" cy="790.9" r="2.1"/>
<circle cx="275.8" cy="800" r="2.1"/>
<circle cx="401.9" cy="683" r="2.1"/>
<circle cx="294" cy="771.6" r="2.1"/>
<circle cx="280" cy="792.4" r="2.1"/>
<circle cx="329" cy="743.8" r="2.1"/>
<circle cx="309.5" cy="770.4" r="2.1"/>
<circle cx="336.7" cy="738.5" r="2.1"/>
<circle cx="349.8" cy="735.7" r="2.1"/>
<circle cx="283.7" cy="777.5" r="2.1"/>
<circle cx="282.6" cy="787.3" r="2.1"/>
<circle cx="282.4" cy="792.3" r="2.1"/>
<circle cx="316.4" cy="752.3" r="2.1"/>
<circle cx="279.3" cy="792.2" r="2.1"/>
<circle cx="289.8" cy="778" r="2.1"/>
<circle cx="320.3" cy="750.6" r="2.1"/>
<circle cx="274.5" cy="803.1" r="2.1"/>
<circle cx="298" cy="774.2" r="2.1"/>
<circle cx="290.8" cy="780.4" r="2.1"/>
<circle cx="352.9" cy="730.2" r="2.1"/>
<circle cx="273.1" cy="802.5" r="2.1"/>
<circle cx="271.8" cy="796.7" r="2.1"/>
<circle cx="382.3" cy="691.7" r="2.1"/>
<circle cx="303.4" cy="768.1" r="2.1"/>
<circle cx="319.4" cy="756.4" r="2.1"/>
<circle cx="276.3" cy="792.6" r="2.1"/>
<circle cx="330.6" cy="741.3" r="2.1"/>
<circle cx="338.4" cy="733.3" r="2.1"/>
<circle cx="317.1" cy="750.1" r="2.1"/>
<circle cx="372.7" cy="687.4" r="2.1"/>
<circle cx="292.3" cy="777.5" r="2.1"/>
<circle cx="282.4" cy="788.2" r="2.1"/>
<circle cx="343.4" cy="721.9" r="2.1"/>
<circle cx="317.7" cy="754.2" r="2.1"/>
<circle cx="293.8" cy="778.3" r="2.1"/>
<circle cx="350.7" cy="718" r="2.1"/>
<circle cx="348.6" cy="724.4" r="2.1"/>
<circle cx="347.3" cy="734.6" r="2.1"/>
<circle cx="296.3" cy="769.9" r="2.1"/>
<circle cx="279.2" cy="793.8" r="2.1"/>
<circle cx="363.3" cy="712.6" r="2.1"/>
<circle cx="281.7" cy="791.3" r="2.1"/>
<circle cx="268.4" cy="804.9" r="2.1"/>
<circle cx="283.1" cy="786.8" r="2.1"/>
<circle cx="353" cy="714.2" r="2.1"/>
<circle cx="304.8" cy="772.1" r="2.1"/>
<circle cx="391.4" cy="696.4" r="2.1"/>
<circle cx="336.7" cy="737.4" r="2.1"/>
<circle cx="393.8" cy="681.9" r="2.1"/>
<circle cx="272.3" cy="796.2" r="2.1"/>
<circle cx="283.1" cy="783.6" r="2.1"/>
<circle cx="358.5" cy="710.3" r="2.1"/>
<circle cx="316.5" cy="761.3" r="2.1"/>
<circle cx="298.8" cy="761.8" r="2.1"/>
<circle cx="276.6" cy="794.1" r="2.1"/>
<circle cx="285.7" cy="778.6" r="2.1"/>
<circle cx="290.4" cy="784.3" r="2.1"/>
<circle cx="306.2" cy="767.6" r="2.1"/>
<circle cx="276.2" cy="790.1" r="2.1"/>
<circle cx="286.5" cy="788.4" r="2.1"/>
<circle cx="313.1" cy="758.9" r="2.1"/>
<circle cx="293.8" cy="776.4" r="2.1"/>
<circle cx="324.5" cy="750" r="2.1"/>
<circle cx="326.1" cy="743" r="2.1"/>
<circle cx="340.2" cy="725.1" r="2.1"/>
<circle cx="398.2" cy="678.8" r="2.1"/>
<circle cx="285.8" cy="788.5" r="2.1"/>
<circle cx="281.6" cy="785.2" r="2.1"/>
<circle cx="274" cy="798.8" r="2.1"/>
<circle cx="299.9" cy="771.7" r="2.1"/>
<circle cx="269.9" cy="804.3" r="2.1"/>
<circle cx="271.9" cy="798.2" r="2.1"/>
<circle cx="314" cy="755.4" r="2.1"/>
<circle cx="334.5" cy="746.9" r="2.1"/>
<circle cx="350.8" cy="724.8" r="2.1"/>
<circle cx="287.6" cy="784.8" r="2.1"/>
<circle cx="269.1" cy="799.7" r="2.1"/>
<circle cx="294" cy="782.9" r="2.1"/>
<circle cx="281.3" cy="785.7" r="2.1"/>
<circle cx="372.8" cy="714.1" r="2.1"/>
<circle cx="291.2" cy="778.9" r="2.1"/>
<circle cx="301.3" cy="767.2" r="2.1"/>
<circle cx="267.1" cy="801" r="2.1"/>
<circle cx="314.9" cy="753.7" r="2.1"/>
<circle cx="291" cy="777" r="2.1"/>
<circle cx="340.3" cy="723" r="2.1"/>
<circle cx="276" cy="798.8" r="2.1"/>
<circle cx="282" cy="788.8" r="2.1"/>
<circle cx="380.4" cy="699.1" r="2.1"/>
<circle cx="317.2" cy="752.5" r="2.1"/>
<circle cx="305.3" cy="755" r="2.1"/>
<circle cx="278.8" cy="794.6" r="2.1"/>
<circle cx="326.9" cy="745.4" r="2.1"/>
<circle cx="271.9" cy="800.9" r="2.1"/>
<circle cx="345.8" cy="735.4" r="2.1"/>
<circle cx="330.2" cy="735.6" r="2.1"/>
<circle cx="288" cy="784.1" r="2.1"/>
<circle cx="314.9" cy="762.8" r="2.1"/>
<circle cx="296.8" cy="767.4" r="2.1"/>
<circle cx="319.1" cy="746.8" r="2.1"/>
<circle cx="277.8" cy="801" r="2.1"/>
<circle cx="332.3" cy="751" r="2.1"/>
<circle cx="291.3" cy="785.1" r="2.1"/>
<circle cx="283.2" cy="783.2" r="2.1"/>
<circle cx="283.8" cy="784.8" r="2.1"/>
<circle cx="318.7" cy="750.1" r="2.1"/>
<circle cx="308.4" cy="766.8" r="2.1"/>
<circle cx="360.1" cy="708.6" r="2.1"/>
<circle cx="379.3" cy="699.4" r="2.1"/>
<circle cx="266.7" cy="803.5" r="2.1"/>
<circle cx="291.3" cy="773.9" r="2.1"/>
<circle cx="329.3" cy="728.3" r="2.1"/>
<circle cx="389" cy="683" r="2.1"/>
<circle cx="360.3" cy="707.7" r="2.1"/>
<circle cx="326.7" cy="743.5" r="2.1"/>
<circle cx="352.9" cy="726.4" r="2.1"/>
<circle cx="276.7" cy="796.3" r="2.1"/>
<circle cx="382" cy="682.4" r="2.1"/>
<circle cx="360.5" cy="726.9" r="2.1"/>
<circle cx="321.5" cy="740.1" r="2.1"/>
<circle cx="267" cy="805" r="2.1"/>
<circle cx="323.2" cy="747.6" r="2.1"/>
<circle cx="348.7" cy="720.4" r="2.1"/>
<circle cx="271.6" cy="800.7" r="2.1"/>
<circle cx="335.9" cy="739.3" r="2.1"/>
<circle cx="294.1" cy="771.6" r="2.1"/>
<circle cx="302" cy="767.7" r="2.1"/>
<circle cx="330.9" cy="741.1" r="2.1"/>
<circle cx="313" cy="758.3" r="2.1"/>
<circle cx="277" cy="791.3" r="2.1"/>
<circle cx="286.9" cy="780.6" r="2.1"/>
<circle cx="318.7" cy="740.1" r="2.1"/>
<circle cx="339.1" cy="733.1" r="2.1"/>
<circle cx="353" cy="710.7" r="2.1"/>
<circle cx="317" cy="748.8" r="2.1"/>
<circle cx="325.1" cy="746" r="2.1"/>
<circle cx="292.7" cy="773.8" r="2.1"/>
<circle cx="287.1" cy="786.9" r="2.1"/>
<circle cx="282.8" cy="794.4" r="2.1"/>
<circle cx="306.3" cy="760.9" r="2.1"/>
<circle cx="293.3" cy="778.6" r="2.1"/>
<circle cx="290.4" cy="783" r="2.1"/>
<circle cx="330" cy="743.6" r="2.1"/>
<circle cx="334.6" cy="740.9" r="2.1"/>
<circle cx="335.8" cy="739.8" r="2.1"/>
<circle cx="379.9" cy="691.8" r="2.1"/>
<circle cx="318.1" cy="753.2" r="2.1"/>
<circle cx="290.2" cy="782.6" r="2.1"/>
<circle cx="288.5" cy="778.8" r="2.1"/>
<circle cx="305.3" cy="770.9" r="2.1"/>
<circle cx="281.5" cy="787.7" r="2.1"/>
<circle cx="298.3" cy="774.8" r="2.1"/>
<circle cx="328.2" cy="743.2" r="2.1"/>
<circle cx="281.5" cy="791.7" r="2.1"/>
<circle cx="343" cy="722.6" r="2.1"/>
<circle cx="270.3" cy="801.1" r="2.1"/>
<circle cx="333.7" cy="731.7" r="2.1"/>
<circle cx="287.6" cy="782.5" r="2.1"/>
<circle cx="330.1" cy="742.8" r="2.1"/>
<circle cx="336.9" cy="735.7" r="2.1"/>
<circle cx="282.1" cy="796.2" r="2.1"/>
<circle cx="274.5" cy="795.8" r="2.1"/>
<circle cx="319.8" cy="744.3" r="2.1"/>
<circle cx="342.7" cy="732.4" r="2.1"/>
<circle cx="286.8" cy="776.6" r="2.1"/>
<circle cx="373.6" cy="694.6" r="2.1"/>
<circle cx="323.8" cy="748.7" r="2.1"/>
<circle cx="382.8" cy="693.4" r="2.1"/>
<circle cx="375.8" cy="699.9" r="2.1"/>
<circle cx="268.3" cy="800.5" r="2.1"/>
<circle cx="283.9" cy="788.9" r="2.1"/>
<circle cx="280.5" cy="797.1" r="2.1"/>
<circle cx="284.5" cy="792.7" r="2.1"/>
<circle cx="290.7" cy="783.4" r="2.1"/>
<circle cx="344" cy="724.2" r="2.1"/>
<circle cx="296.3" cy="773.9" r="2.1"/>
<circle cx="361.9" cy="701.3" r="2.1"/>
<circle cx="340.4" cy="735.1" r="2.1"/>
<circle cx="308.5" cy="764.3" r="2.1"/>
<circle cx="375" cy="706.6" r="2.1"/>
<circle cx="282.8" cy="787.9" r="2.1"/>
<circle cx="289.2" cy="774.7" r="2.1"/>
<circle cx="288.6" cy="783.2" r="2.1"/>
<circle cx="277.9" cy="788.2" r="2.1"/>
<circle cx="304" cy="755.5" r="2.1"/>
<circle cx="286" cy="785.2" r="2.1"/>
<circle cx="287.8" cy="782.4" r="2.1"/>
<circle cx="293.9" cy="778.2" r="2.1"/>
<circle cx="267.9" cy="804.1" r="2.1"/>
<circle cx="370.9" cy="713.4" r="2.1"/>
<circle cx="270.6" cy="802.7" r="2.1"/>
<circle cx="350.2" cy="717.5" r="2.1"/>
<circle cx="308.4" cy="762.6" r="2.1"/>
<circle cx="295.5" cy="774.5" r="2.1"/>
<circle cx="318.7" cy="757.7" r="2.1"/>
<circle cx="280.3" cy="788.6" r="2.1"/>
<circle cx="371.3" cy="708.5" r="2.1"/>
<circle cx="320.6" cy="751.6" r="2.1"/>
<circle cx="290.8" cy="785.3" r="2.1"/>
<circle cx="367.2" cy="710.9" r="2.1"/>
<circle cx="274.4" cy="800.6" r="2.1"/>
<circle cx="301.4" cy="763.7" r="2.1"/>
<circle cx="319.1" cy="744.3" r="2.1"/>
<circle cx="302" cy="769.6" r="2.1"/>
<circle cx="299.2" cy="770.1" r="2.1"/>
<circle cx="278.2" cy="793.5" r="2.1"/>
<circle cx="336.5" cy="741.5" r="2.1"/>
<circle cx="301" cy="771.2" r="2.1"/>
<circle cx="278.2" cy="792.1" r="2.1"/>
<circle cx="269.6" cy="799.7" r="2.1"/>
<circle cx="339" cy="739.7" r="2.1"/>
<circle cx="320.2" cy="756.9" r="2.1"/>
<circle cx="367" cy="697.3" r="2.1"/>
<circle cx="317.6" cy="745" r="2.1"/>
<circle cx="291.4" cy="771.7" r="2.1"/>
<circle cx="283" cy="784.2" r="2.1"/>
<circle cx="313.1" cy="752" r="2.1"/>
<circle cx="314.8" cy="758.2" r="2.1"/>
<circle cx="317.7" cy="747.9" r="2.1"/>
<circle cx="398.7" cy="691.2" r="2.1"/>
<circle cx="307.5" cy="752.8" r="2.1"/>
<circle cx="406.6" cy="664.3" r="2.1"/>
<circle cx="277.3" cy="797" r="2.1"/>
<circle cx="271.7" cy="800.6" r="2.1"/>
<circle cx="319.8" cy="750.2" r="2.1"/>
<circle cx="309" cy="766.4" r="2.1"/>
<circle cx="303.7" cy="760.7" r="2.1"/>
<circle cx="370.6" cy="693.1" r="2.1"/>
<circle cx="321.6" cy="753.7" r="2.1"/>
<circle cx="296.1" cy="773.6" r="2.1"/>
<circle cx="281.9" cy="787.6" r="2.1"/>
<circle cx="280.4" cy="787.9" r="2.1"/>
<circle cx="295.2" cy="782.1" r="2.1"/>
<circle cx="270.4" cy="794.4" r="2.1"/>
<circle cx="278" cy="790.6" r="2.1"/>
<circle cx="343.6" cy="734.5" r="2.1"/>
<circle cx="299" cy="766.8" r="2.1"/>
<circle cx="300.6" cy="759.4" r="2.1"/>
<circle cx="294.2" cy="774.9" r="2.1"/>
<circle cx="286.9" cy="788.1" r="2.1"/>
<circle cx="298.6" cy="766.3" r="2.1"/>
<circle cx="272" cy="797.5" r="2.1"/>
<circle cx="313.4" cy="749.2" r="2.1"/>
<circle cx="366.7" cy="695.3" r="2.1"/>
<circle cx="314.4" cy="754.7" r="2.1"/>
<circle cx="317.1" cy="753.9" r="2.1"/>
<circle cx="309.5" cy="753.6" r="2.1"/>
<circle cx="348.5" cy="722.9" r="2.1"/>
<circle cx="353" cy="710.7" r="2.1"/>
<circle cx="276" cy="796.8" r="2.1"/>
<circle cx="404.4" cy="684.2" r="2.1"/>
<circle cx="334.9" cy="745.1" r="2.1"/>
<circle cx="367.9" cy="715.2" r="2.1"/>
<circle cx="309.2" cy="756.7" r="2.1"/>
<circle cx="276.4" cy="796.2" r="2.1"/>
<circle cx="268.1" cy="804.7" r="2.1"/>
<circle cx="287.6" cy="784.3" r="2.1"/>
<circle cx="318.6" cy="751.9" r="2.1"/>
<circle cx="297.3" cy="772.2" r="2.1"/>
<circle cx="320.8" cy="750.7" r="2.1"/>
<circle cx="313.2" cy="752.6" r="2.1"/>
<circle cx="395.6" cy="679.7" r="2.1"/>
<circle cx="269.4" cy="803.7" r="2.1"/>
<circle cx="301.8" cy="763.5" r="2.1"/>
<circle cx="290.6" cy="777.8" r="2.1"/>
<circle cx="323.4" cy="741" r="2.1"/>
<circle cx="310.7" cy="759.4" r="2.1"/>
<circle cx="307.5" cy="760.8" r="2.1"/>
<circle cx="329.7" cy="738.6" r="2.1"/>
<circle cx="349.5" cy="724.8" r="2.1"/>
<circle cx="275.2" cy="791.8" r="2.1"/>
<circle cx="304.1" cy="761.7" r="2.1"/>
<circle cx="361.2" cy="721.4" r="2.1"/>
<circle cx="270.5" cy="800.6" r="2.1"/>
<circle cx="283.3" cy="783.5" r="2.1"/>
<circle cx="333.5" cy="751.4" r="2.1"/>
<circle cx="296.1" cy="773.1" r="2.1"/>
<circle cx="306.3" cy="767.7" r="2.1"/>
<circle cx="341.2" cy="727.9" r="2.1"/>
<circle cx="312.1" cy="753.8" r="2.1"/>
<circle cx="353" cy="717.7" r="2.1"/>
<circle cx="321.3" cy="752.6" r="2.1"/>
<circle cx="373.1" cy="700" r="2.1"/>
<circle cx="319" cy="751.1" r="2.1"/>
<circle cx="326.6" cy="747.9" r="2.1"/>
<circle cx="294.8" cy="776.6" r="2.1"/>
<circle cx="286.1" cy="785.1" r="2.1"/>
<circle cx="339.1" cy="735.9" r="2.1"/>
<circle cx="343.8" cy="730" r="2.1"/>
<circle cx="287.1" cy="781.2" r="2.1"/>
<circle cx="390.6" cy="692.7" r="2.1"/>
<circle cx="269.8" cy="796.3" r="2.1"/>
<circle cx="333.2" cy="737.7" r="2.1"/>
<circle cx="324.9" cy="754.2" r="2.1"/>
<circle cx="274.7" cy="793.3" r="2.1"/>
<circle cx="299.4" cy="767" r="2.1"/>
<circle cx="282.7" cy="790.1" r="2.1"/>
<circle cx="316" cy="757" r="2.1"/>
<circle cx="274.2" cy="796.1" r="2.1"/>
<circle cx="319.8" cy="747.4" r="2.1"/>
<circle cx="280.9" cy="789.6" r="2.1"/>
<circle cx="276.9" cy="800.4" r="2.1"/>
<circle cx="318.8" cy="752.2" r="2.1"/>
<circle cx="317.5" cy="749.7" r="2.1"/>
<circle cx="354.1" cy="714.5" r="2.1"/>
<circle cx="292.2" cy="782.3" r="2.1"/>
<circle cx="318.7" cy="758.4" r="2.1"/>
<circle cx="271.5" cy="797.8" r="2.1"/>
<circle cx="335.8" cy="730.3" r="2.1"/>
<circle cx="271.3" cy="803.4" r="2.1"/>
<circle cx="267.4" cy="800" r="2.1"/>
<circle cx="395.9" cy="671.4" r="2.1"/>
<circle cx="268.8" cy="803.9" r="2.1"/>
<circle cx="307.1" cy="766.5" r="2.1"/>
<circle cx="369" cy="710.5" r="2.1"/>
<circle cx="278.3" cy="795.6" r="2.1"/>
<circle cx="296.8" cy="769.9" r="2.1"/>
<circle cx="319.2" cy="744.9" r="2.1"/>
<circle cx="373.7" cy="709.2" r="2.1"/>
<circle cx="273.2" cy="795.7" r="2.1"/>
<circle cx="283.8" cy="790.8" r="2.1"/>
<circle cx="376" cy="689.9" r="2.1"/>
<circle cx="311.5" cy="755.6" r="2.1"/>
<circle cx="280.1" cy="795" r="2.1"/>
<circle cx="289" cy="780.8" r="2.1"/>
<circle cx="280.4" cy="789" r="2.1"/>
<circle cx="321.8" cy="750.7" r="2.1"/>
<circle cx="361.6" cy="702.4" r="2.1"/>
<circle cx="406.8" cy="679.9" r="2.1"/>
<circle cx="383.4" cy="687.3" r="2.1"/>
<circle cx="276.2" cy="793.9" r="2.1"/>
<circle cx="332" cy="736.8" r="2.1"/>
<circle cx="280.3" cy="791.8" r="2.1"/>
<circle cx="342.2" cy="734.9" r="2.1"/>
<circle cx="351.7" cy="706.1" r="2.1"/>
<circle cx="275.7" cy="794.8" r="2.1"/>
<circle cx="393.8" cy="693.9" r="2.1"/>
<circle cx="300.4" cy="778.3" r="2.1"/>
<circle cx="332.8" cy="738" r="2.1"/>
<circle cx="321.6" cy="751.7" r="2.1"/>
<circle cx="312.2" cy="756.4" r="2.1"/>
<circle cx="301.9" cy="774.5" r="2.1"/>
<circle cx="308.1" cy="765.3" r="2.1"/>
<circle cx="344.8" cy="719" r="2.1"/>
<circle cx="296.2" cy="766" r="2.1"/>
<circle cx="295.1" cy="768.1" r="2.1"/>
<circle cx="310.8" cy="761.1" r="2.1"/>
<circle cx="272.5" cy="798" r="2.1"/>
<circle cx="320.7" cy="746.3" r="2.1"/>
<circle cx="268.7" cy="803.5" r="2.1"/>
<circle cx="274.9" cy="791.5" r="2.1"/>
<circle cx="267.4" cy="803.8" r="2.1"/>
<circle cx="343.8" cy="724.2" r="2.1"/>
<circle cx="315" cy="751.7" r="2.1"/>
<circle cx="342.8" cy="722.4" r="2.1"/>
<circle cx="358.7" cy="715.9" r="2.1"/>
<circle cx="334.2" cy="734" r="2.1"/>
<circle cx="300.3" cy="775.8" r="2.1"/>
<circle cx="296.6" cy="777.3" r="2.1"/>
<circle cx="302.9" cy="771" r="2.1"/>
<circle cx="281.2" cy="791.5" r="2.1"/>
<circle cx="274.8" cy="799.1" r="2.1"/>
<circle cx="304.8" cy="767" r="2.1"/>
<circle cx="286.1" cy="785.9" r="2.1"/>
<circle cx="386" cy="701.3" r="2.1"/>
<circle cx="308.2" cy="754.9" r="2.1"/>
<circle cx="362.2" cy="711.2" r="2.1"/>
<circle cx="321.4" cy="754.1" r="2.1"/>
<circle cx="288.5" cy="781.1" r="2.1"/>
<circle cx="300.9" cy="770.4" r="2.1"/>
<circle cx="290.7" cy="785.6" r="2.1"/>
<circle cx="361.9" cy="706.1" r="2.1"/>
<circle cx="273.9" cy="799.8" r="2.1"/>
<circle cx="342.6" cy="725" r="2.1"/>
<circle cx="359.6" cy="710.5" r="2.1"/>
<circle cx="300.7" cy="779" r="2.1"/>
<circle cx="317.1" cy="747.3" r="2.1"/>
<circle cx="276.5" cy="795.2" r="2.1"/>
<circle cx="298" cy="764.2" r="2.1"/>
<circle cx="343.5" cy="726.6" r="2.1"/>
<circle cx="293.2" cy="775.4" r="2.1"/>
<circle cx="324.8" cy="747.8" r="2.1"/>
<circle cx="350.4" cy="732.6" r="2.1"/>
<circle cx="357.4" cy="716.1" r="2.1"/>
<circle cx="337.5" cy="732.6" r="2.1"/>
<circle cx="284.3" cy="788.3" r="2.1"/>
<circle cx="387.2" cy="681.2" r="2.1"/>
<circle cx="293.5" cy="781.8" r="2.1"/>
<circle cx="327.5" cy="743.3" r="2.1"/>
<circle cx="399.9" cy="683.9" r="2.1"/>
<circle cx="294.2" cy="777.4" r="2.1"/>
<circle cx="285.1" cy="784.3" r="2.1"/>
<circle cx="331.1" cy="748.7" r="2.1"/>
<circle cx="266.7" cy="803" r="2.1"/>
<circle cx="268.9" cy="797.8" r="2.1"/>
<circle cx="328" cy="742.5" r="2.1"/>
<circle cx="334.5" cy="747.7" r="2.1"/>
<circle cx="296.9" cy="774.2" r="2.1"/>
<circle cx="317.4" cy="759.1" r="2.1"/>
<circle cx="347.8" cy="720.6" r="2.1"/>
<circle cx="279.9" cy="790.6" r="2.1"/>
<circle cx="282" cy="785" r="2.1"/>
<circle cx="310.8" cy="766.7" r="2.1"/>
<circle cx="282.2" cy="792.5" r="2.1"/>
<circle cx="366.3" cy="710.7" r="2.1"/>
<circle cx="269.1" cy="802.4" r="2.1"/>
<circle cx="339.3" cy="733" r="2.1"/>
<circle cx="295.2" cy="777.6" r="2.1"/>
<circle cx="303.9" cy="767.2" r="2.1"/>
<circle cx="312.7" cy="760.1" r="2.1"/>
<circle cx="279.4" cy="789.3" r="2.1"/>
<circle cx="386.8" cy="683.3" r="2.1"/>
<circle cx="272.2" cy="795.3" r="2.1"/>
<circle cx="283.7" cy="787.9" r="2.1"/>
<circle cx="308.2" cy="757.6" r="2.1"/>
<circle cx="279" cy="794.5" r="2.1"/>
<circle cx="332" cy="739.6" r="2.1"/>
<circle cx="320.2" cy="760" r="2.1"/>
<circle cx="326.9" cy="749.3" r="2.1"/>
<circle cx="333.1" cy="732.5" r="2.1"/>
<circle cx="283.6" cy="794.5" r="2.1"/>
<circle cx="305.6" cy="771.1" r="2.1"/>
<circle cx="277.4" cy="797.8" r="2.1"/>
<circle cx="327.9" cy="733.8" r="2.1"/>
<circle cx="314.6" cy="763.5" r="2.1"/>
<circle cx="268.5" cy="801.5" r="2.1"/>
<circle cx="350.8" cy="729.2" r="2.1"/>
<circle cx="362.4" cy="726.4" r="2.1"/>
<circle cx="338.2" cy="738" r="2.1"/>
<circle cx="280.9" cy="788.9" r="2.1"/>
<circle cx="368.5" cy="702.2" r="2.1"/>
<circle cx="284.5" cy="788.1" r="2.1"/>
<circle cx="267.9" cy="803.1" r="2.1"/>
<circle cx="360.5" cy="709.3" r="2.1"/>
<circle cx="325.5" cy="755.4" r="2.1"/>
<circle cx="267.6" cy="803.8" r="2.1"/>
<circle cx="388.5" cy="669.4" r="2.1"/>
<circle cx="275.2" cy="800.1" r="2.1"/>
<circle cx="291.1" cy="778.9" r="2.1"/>
<circle cx="374.4" cy="692.9" r="2.1"/>
<circle cx="315.6" cy="762.4" r="2.1"/>
<circle cx="282.1" cy="788.1" r="2.1"/>
<circle cx="324.4" cy="747.4" r="2.1"/>
<circle cx="403.4" cy="668.8" r="2.1"/>
<circle cx="278.3" cy="792.8" r="2.1"/>
<circle cx="274.9" cy="801.7" r="2.1"/>
<circle cx="329.9" cy="736.1" r="2.1"/>
<circle cx="300.5" cy="761.5" r="2.1"/>
<circle cx="267.3" cy="799.6" r="2.1"/>
<circle cx="309.6" cy="760.4" r="2.1"/>
<circle cx="308.6" cy="757.9" r="2.1"/>
<circle cx="290.5" cy="780.3" r="2.1"/>
<circle cx="274.2" cy="793" r="2.1"/>
<circle cx="371.3" cy="707" r="2.1"/>
<circle cx="296.2" cy="767.9" r="2.1"/>
<circle cx="395.4" cy="694.5" r="2.1"/>
<circle cx="291.3" cy="773.5" r="2.1"/>
<circle cx="326.5" cy="746.8" r="2.1"/>
<circle cx="320" cy="744.1" r="2.1"/>
<circle cx="309.7" cy="762" r="2.1"/>
<circle cx="273.9" cy="800.1" r="2.1"/>
<circle cx="276.5" cy="792.2" r="2.1"/>
<circle cx="354.6" cy="713.1" r="2.1"/>
<circle cx="293.3" cy="783.3" r="2.1"/>
<circle cx="281" cy="783.9" r="2.1"/>
<circle cx="345.1" cy="721.1" r="2.1"/>
<circle cx="271.7" cy="800.4" r="2.1"/>
<circle cx="300.2" cy="772" r="2.1"/>
<circle cx="322.8" cy="752.6" r="2.1"/>
<circle cx="290" cy="778.4" r="2.1"/>
<circle cx="273.5" cy="799.7" r="2.1"/>
<circle cx="353.9" cy="715.1" r="2.1"/>
<circle cx="297.3" cy="772" r="2.1"/>
<circle cx="353.2" cy="722.2" r="2.1"/>
<circle cx="277.1" cy="788.9" r="2.1"/>
<circle cx="349.1" cy="726" r="2.1"/>
<circle cx="298.8" cy="764" r="2.1"/>
<circle cx="285.5" cy="786.1" r="2.1"/>
<circle cx="363.7" cy="704.8" r="2.1"/>
<circle cx="297.8" cy="769.7" r="2.1"/>
<circle cx="288.1" cy="780.6" r="2.1"/>
<circle cx="301.6" cy="765.6" r="2.1"/>
<circle cx="282.9" cy="791.8" r="2.1"/>
<circle cx="296.8" cy="766.8" r="2.1"/>
<circle cx="289.5" cy="785.3" r="2.1"/>
<circle cx="271.6" cy="797" r="2.1"/>
<circle cx="275.9" cy="799.7" r="2.1"/>
<circle cx="280.9" cy="793.9" r="2.1"/>
<circle cx="278.1" cy="796.7" r="2.1"/>
<circle cx="317.8" cy="755.2" r="2.1"/>
<circle cx="272.6" cy="803.4" r="2.1"/>
<circle cx="336.1" cy="735" r="2.1"/>
<circle cx="289.7" cy="790.1" r="2.1"/>
<circle cx="286.1" cy="788.2" r="2.1"/>
<circle cx="311.9" cy="756.7" r="2.1"/>
<circle cx="309.9" cy="761.6" r="2.1"/>
<circle cx="344.8" cy="724.1" r="2.1"/>
<circle cx="324.5" cy="752.2" r="2.1"/>
<circle cx="334.6" cy="733.5" r="2.1"/>
<circle cx="301.8" cy="768.4" r="2.1"/>
<circle cx="279.5" cy="781.4" r="2.1"/>
<circle cx="273" cy="799.4" r="2.1"/>
<circle cx="310.5" cy="763" r="2.1"/>
<circle cx="376" cy="699.3" r="2.1"/>
<circle cx="355.5" cy="718.8" r="2.1"/>
<circle cx="305.3" cy="755.4" r="2.1"/>
<circle cx="322.1" cy="753.7" r="2.1"/>
<circle cx="285.4" cy="784.7" r="2.1"/>
<circle cx="309.8" cy="762.3" r="2.1"/>
<circle cx="296.6" cy="772" r="2.1"/>
<circle cx="304.3" cy="775.1" r="2.1"/>
<circle cx="305.6" cy="756.8" r="2.1"/>
<circle cx="277.5" cy="795.4" r="2.1"/>
<circle cx="280.6" cy="795.6" r="2.1"/>
<circle cx="332.9" cy="738.9" r="2.1"/>
<circle cx="288.2" cy="788.6" r="2.1"/>
<circle cx="304.2" cy="763.6" r="2.1"/>
<circle cx="351.8" cy="722.9" r="2.1"/>
<circle cx="312.7" cy="767.7" r="2.1"/>
<circle cx="276.7" cy="797.2" r="2.1"/>
<circle cx="298.4" cy="777.4" r="2.1"/>
<circle cx="299.1" cy="762.1" r="2.1"/>
<circle cx="322.3" cy="753" r="2.1"/>
<circle cx="350.5" cy="714.3" r="2.1"/>
<circle cx="288.1" cy="791.9" r="2.1"/>
<circle cx="332.6" cy="748" r="2.1"/>
<circle cx="288.3" cy="785.8" r="2.1"/>
<circle cx="321.2" cy="747.9" r="2.1"/>
<circle cx="358.9" cy="705.5" r="2.1"/>
<circle cx="376.7" cy="686.4" r="2.1"/>
<circle cx="360" cy="708.6" r="2.1"/>
<circle cx="310.3" cy="761.4" r="2.1"/>
<circle cx="312.8" cy="762.9" r="2.1"/>
<circle cx="285.5" cy="781.8" r="2.1"/>
<circle cx="350.7" cy="726.3" r="2.1"/>
<circle cx="284.1" cy="787.6" r="2.1"/>
<circle cx="274.9" cy="795.8" r="2.1"/>
<circle cx="270.6" cy="798.1" r="2.1"/>
<circle cx="360.8" cy="719.7" r="2.1"/>
<circle cx="267.4" cy="803" r="2.1"/>
<circle cx="306.3" cy="768.1" r="2.1"/>
<circle cx="345.2" cy="729.1" r="2.1"/>
<circle cx="375.1" cy="708.3" r="2.1"/>
<circle cx="341" cy="728.6" r="2.1"/>
<circle cx="333.4" cy="739.3" r="2.1"/>
<circle cx="323.2" cy="744.4" r="2.1"/>
<circle cx="273.3" cy="799.8" r="2.1"/>
<circle cx="356.3" cy="720.4" r="2.1"/>
<circle cx="268.9" cy="803.6" r="2.1"/>
<circle cx="292.8" cy="773.2" r="2.1"/>
<circle cx="303.1" cy="764.2" r="2.1"/>
<circle cx="271.8" cy="801.6" r="2.1"/>
<circle cx="270.9" cy="795.4" r="2.1"/>
<circle cx="290.1" cy="776.3" r="2.1"/>
<circle cx="294.3" cy="773" r="2.1"/>
<circle cx="330.4" cy="744.3" r="2.1"/>
<circle cx="354.2" cy="712.9" r="2.1"/>
<circle cx="272.4" cy="796.9" r="2.1"/>
<circle cx="392.4" cy="693.4" r="2.1"/>
<circle cx="330.7" cy="744.9" r="2.1"/>
<circle cx="336.9" cy="743.7" r="2.1"/>
<circle cx="286.4" cy="787.6" r="2.1"/>
<circle cx="323.2" cy="746.9" r="2.1"/>
<circle cx="361" cy="716.8" r="2.1"/>
<circle cx="357.7" cy="715" r="2.1"/>
<circle cx="292" cy="773.9" r="2.1"/>
<circle cx="279.8" cy="797.1" r="2.1"/>
<circle cx="380.7" cy="696.8" r="2.1"/>
<circle cx="270" cy="800.4" r="2.1"/>
<circle cx="269" cy="801.4" r="2.1"/>
<circle cx="285.4" cy="790.9" r="2.1"/>
<circle cx="317.3" cy="754.6" r="2.1"/>
<circle cx="323.1" cy="746.6" r="2.1"/>
<circle cx="269.9" cy="801.5" r="2.1"/>
<circle cx="286.5" cy="780.7" r="2.1"/>
<circle cx="288.4" cy="776.5" r="2.1"/>
<circle cx="362.7" cy="699.9" r="2.1"/>
<circle cx="332.2" cy="734.8" r="2.1"/>
<circle cx="291.8" cy="779" r="2.1"/>
<circle cx="310.5" cy="755.4" r="2.1"/>
<circle cx="271.8" cy="796" r="2.1"/>
<circle cx="312" cy="763.2" r="2.1"/>
<circle cx="274.6" cy="797.6" r="2.1"/>
<circle cx="291.4" cy="777" r="2.1"/>
<circle cx="276.2" cy="797.4" r="2.1"/>
<circle cx="324.4" cy="746" r="2.1"/>
<circle cx="280.8" cy="787.6" r="2.1"/>
<circle cx="298.4" cy="775.3" r="2.1"/>
<circle cx="275.4" cy="800.1" r="2.1"/>
<circle cx="318.8" cy="755.2" r="2.1"/>
<circle cx="285.6" cy="780.2" r="2.1"/>
<circle cx="374.4" cy="712.9" r="2.1"/>
<circle cx="296.5" cy="776.1" r="2.1"/>
<circle cx="315.5" cy="757" r="2.1"/>
<circle cx="276.8" cy="792.2" r="2.1"/>
<circle cx="267.4" cy="802.4" r="2.1"/>
<circle cx="299.3" cy="768.9" r="2.1"/>
<circle cx="286.7" cy="783.9" r="2.1"/>
<circle cx="296.7" cy="772.8" r="2.1"/>
<circle cx="288.2" cy="783.6" r="2.1"/>
<circle cx="342.4" cy="725.8" r="2.1"/>
<circle cx="388.3" cy="673.7" r="2.1"/>
<circle cx="274.7" cy="793.8" r="2.1"/>
<circle cx="403.3" cy="664.6" r="2.1"/>
<circle cx="281.8" cy="792.1" r="2.1"/>
<circle cx="361.6" cy="723.8" r="2.1"/>
<circle cx="322.1" cy="746.7" r="2.1"/>
<circle cx="274.1" cy="797.8" r="2.1"/>
<circle cx="388.3" cy="687" r="2.1"/>
<circle cx="361.8" cy="705.4" r="2.1"/>
<circle cx="288" cy="770.7" r="2.1"/>
<circle cx="318.5" cy="753.3" r="2.1"/>
<circle cx="297" cy="772.9" r="2.1"/>
<circle cx="270.7" cy="794.3" r="2.1"/>
<circle cx="316.8" cy="750.6" r="2.1"/>
<circle cx="281.6" cy="789.7" r="2.1"/>
<circle cx="357.1" cy="715.3" r="2.1"/>
<circle cx="326.9" cy="741.2" r="2.1"/>
<circle cx="311.5" cy="764.8" r="2.1"/>
<circle cx="299.6" cy="777.3" r="2.1"/>
<circle cx="299.1" cy="759.8" r="2.1"/>
<circle cx="282.1" cy="790.7" r="2.1"/>
<circle cx="358.6" cy="704.4" r="2.1"/>
<circle cx="340.6" cy="719" r="2.1"/>
<circle cx="284.6" cy="787.7" r="2.1"/>
<circle cx="301.4" cy="769.3" r="2.1"/>
<circle cx="324.4" cy="749.2" r="2.1"/>
<circle cx="274.5" cy="789.8" r="2.1"/>
<circle cx="304.5" cy="761.2" r="2.1"/>
<circle cx="286.2" cy="782.4" r="2.1"/>
<circle cx="313.5" cy="757.5" r="2.1"/>
<circle cx="295.3" cy="766.9" r="2.1"/>
<circle cx="286.1" cy="788.5" r="2.1"/>
<circle cx="275.5" cy="786.6" r="2.1"/>
<circle cx="278.7" cy="785.4" r="2.1"/>
<circle cx="366.4" cy="701.2" r="2.1"/>
<circle cx="272.6" cy="800.4" r="2.1"/>
<circle cx="277.1" cy="800.3" r="2.1"/>
<circle cx="344" cy="722.3" r="2.1"/>
<circle cx="296.5" cy="770.7" r="2.1"/>
<circle cx="284.4" cy="791" r="2.1"/>
<circle cx="340.5" cy="735.9" r="2.1"/>
<circle cx="273.8" cy="800.5" r="2.1"/>
<circle cx="320.6" cy="756.3" r="2.1"/>
<circle cx="313.4" cy="760.2" r="2.1"/>
<circle cx="315.3" cy="761.6" r="2.1"/>
<circle cx="278.5" cy="794.3" r="2.1"/>
<circle cx="301.8" cy="768.7" r="2.1"/>
<circle cx="296.6" cy="768.2" r="2.1"/>
<circle cx="281.1" cy="789.9" r="2.1"/>
<circle cx="268.3" cy="802.9" r="2.1"/>
<circle cx="294.9" cy="773.7" r="2.1"/>
<circle cx="287.1" cy="776" r="2.1"/>
<circle cx="274.4" cy="797.4" r="2.1"/>
<circle cx="381.2" cy="682.3" r="2.1"/>
<circle cx="323.9" cy="746.9" r="2.1"/>
<circle cx="279.3" cy="793.1" r="2.1"/>
<circle cx="267.6" cy="805.1" r="2.1"/>
<circle cx="312" cy="759.7" r="2.1"/>
<circle cx="289.1" cy="770.2" r="2.1"/>
<circle cx="340.5" cy="733.1" r="2.1"/>
<circle cx="336.6" cy="739.4" r="2.1"/>
<circle cx="296.7" cy="773.8" r="2.1"/>
<circle cx="323.8" cy="750.7" r="2.1"/>
<circle cx="271.5" cy="799.5" r="2.1"/>
<circle cx="287.8" cy="786.3" r="2.1"/>
<circle cx="378" cy="698.4" r="2.1"/>
<circle cx="328" cy="744.2" r="2.1"/>
<circle cx="310.5" cy="767.6" r="2.1"/>
<circle cx="427" cy="667.7" r="2.1"/>
<circle cx="335.9" cy="736.9" r="2.1"/>
<circle cx="271.1" cy="801.2" r="2.1"/>
<circle cx="361.5" cy="715.1" r="2.1"/>
<circle cx="277.6" cy="787.1" r="2.1"/>
<circle cx="303" cy="770.1" r="2.1"/>
<circle cx="302.5" cy="769.8" r="2.1"/>
<circle cx="359.7" cy="716.5" r="2.1"/>
<circle cx="297.7" cy="770.5" r="2.1"/>
<circle cx="322.5" cy="747.4" r="2.1"/>
<circle cx="310.3" cy="756.2" r="2.1"/>
<circle cx="314.5" cy="755.9" r="2.1"/>
<circle cx="289.1" cy="779" r="2.1"/>
<circle cx="329.8" cy="745.6" r="2.1"/>
<circle cx="301.5" cy="767.6" r="2.1"/>
<circle cx="327.5" cy="751" r="2.1"/>
<circle cx="303.2" cy="759.9" r="2.1"/>
<circle cx="378.6" cy="703.9" r="2.1"/>
<circle cx="335.4" cy="736.3" r="2.1"/>
<circle cx="354.1" cy="713.7" r="2.1"/>
<circle cx="340.7" cy="730.2" r="2.1"/>
<circle cx="291.2" cy="779.7" r="2.1"/>
<circle cx="373.2" cy="691" r="2.1"/>
<circle cx="323.2" cy="743.7" r="2.1"/>
<circle cx="273.4" cy="797.3" r="2.1"/>
<circle cx="295.5" cy="785" r="2.1"/>
<circle cx="308.9" cy="757.8" r="2.1"/>
<circle cx="370.5" cy="711" r="2.1"/>
<circle cx="359.8" cy="705.4" r="2.1"/>
<circle cx="308.1" cy="765.1" r="2.1"/>
<circle cx="301.1" cy="759.6" r="2.1"/>
<circle cx="377.3" cy="693.9" r="2.1"/>
<circle cx="318.5" cy="760.9" r="2.1"/>
<circle cx="277.6" cy="792.5" r="2.1"/>
<circle cx="324.6" cy="744.5" r="2.1"/>
<circle cx="342.5" cy="738.4" r="2.1"/>
<circle cx="268.2" cy="802.8" r="2.1"/>
<circle cx="267" cy="803.1" r="2.1"/>
<circle cx="354.1" cy="721.5" r="2.1"/>
<circle cx="285.2" cy="793.8" r="2.1"/>
<circle cx="277.2" cy="798.4" r="2.1"/>
<circle cx="289.6" cy="774.6" r="2.1"/>
<circle cx="289.5" cy="781.8" r="2.1"/>
<circle cx="338.5" cy="727.5" r="2.1"/>
<circle cx="326.1" cy="744.4" r="2.1"/>
<circle cx="278" cy="795.1" r="2.1"/>
<circle cx="353.1" cy="725.4" r="2.1"/>
<circle cx="277.9" cy="788.5" r="2.1"/>
<circle cx="305.4" cy="767.1" r="2.1"/>
<circle cx="310.5" cy="757.1" r="2.1"/>
<circle cx="293.7" cy="767.7" r="2.1"/>
<circle cx="338.2" cy="746.6" r="2.1"/>
<circle cx="303" cy="773.7" r="2.1"/>
<circle cx="298.7" cy="766.8" r="2.1"/>
<circle cx="268.9" cy="804" r="2.1"/>
<circle cx="287.6" cy="776" r="2.1"/>
<circle cx="360.6" cy="716.1" r="2.1"/>
<circle cx="329.1" cy="741.6" r="2.1"/>
<circle cx="296.4" cy="768.7" r="2.1"/>
<circle cx="288.1" cy="783.5" r="2.1"/>
<circle cx="324.7" cy="756.9" r="2.1"/>
<circle cx="345.8" cy="714.8" r="2.1"/>
<circle cx="293.2" cy="776" r="2.1"/>
<circle cx="309.9" cy="761.1" r="2.1"/>
<circle cx="398.3" cy="679.3" r="2.1"/>
<circle cx="405.9" cy="668.9" r="2.1"/>
<circle cx="315.9" cy="759.9" r="2.1"/>
<circle cx="303.9" cy="764" r="2.1"/>
<circle cx="275.1" cy="794.3" r="2.1"/>
<circle cx="275.5" cy="796.2" r="2.1"/>
<circle cx="343.8" cy="738.7" r="2.1"/>
<circle cx="320.7" cy="752.1" r="2.1"/>
<circle cx="289.2" cy="784.1" r="2.1"/>
<circle cx="274.1" cy="790.3" r="2.1"/>
<circle cx="275.5" cy="791.9" r="2.1"/>
<circle cx="323.4" cy="746.3" r="2.1"/>
<circle cx="269.2" cy="804.7" r="2.1"/>
<circle cx="286.3" cy="782" r="2.1"/>
<circle cx="403.8" cy="679.7" r="2.1"/>
<circle cx="298.9" cy="773" r="2.1"/>
<circle cx="281.9" cy="780.5" r="2.1"/>
<circle cx="302.3" cy="759.1" r="2.1"/>
<circle cx="336.7" cy="737.4" r="2.1"/>
<circle cx="272.3" cy="799.7" r="2.1"/>
<circle cx="342.8" cy="732.5" r="2.1"/>
<circle cx="288.5" cy="786.1" r="2.1"/>
<circle cx="299.9" cy="771.7" r="2.1"/>
<circle cx="308.1" cy="763.3" r="2.1"/>
<circle cx="278.4" cy="792.2" r="2.1"/>
<circle cx="278.3" cy="791.6" r="2.1"/>
<circle cx="318.2" cy="753.4" r="2.1"/>
<circle cx="364.5" cy="703.3" r="2.1"/>
<circle cx="348.3" cy="720.3" r="2.1"/>
<circle cx="286.8" cy="790.8" r="2.1"/>
<circle cx="295.5" cy="779.3" r="2.1"/>
<circle cx="280.8" cy="788.8" r="2.1"/>
<circle cx="308.6" cy="763.3" r="2.1"/>
<circle cx="334.4" cy="745.8" r="2.1"/>
<circle cx="271.4" cy="797.3" r="2.1"/>
<circle cx="280.6" cy="785.6" r="2.1"/>
<circle cx="276.3" cy="793.8" r="2.1"/>
<circle cx="361.6" cy="720.9" r="2.1"/>
<circle cx="386.5" cy="686.4" r="2.1"/>
<circle cx="331.3" cy="735.5" r="2.1"/>
<circle cx="354.6" cy="711.8" r="2.1"/>
<circle cx="310.5" cy="761.2" r="2.1"/>
<circle cx="347.9" cy="723.7" r="2.1"/>
<circle cx="272.7" cy="798.6" r="2.1"/>
<circle cx="299.8" cy="772" r="2.1"/>
<circle cx="330.7" cy="747.6" r="2.1"/>
<circle cx="313.5" cy="758.4" r="2.1"/>
<circle cx="317.3" cy="749.9" r="2.1"/>
<circle cx="285.9" cy="780.1" r="2.1"/>
<circle cx="305" cy="761.5" r="2.1"/>
<circle cx="322" cy="755.1" r="2.1"/>
<circle cx="353.5" cy="713.6" r="2.1"/>
<circle cx="317.4" cy="753.6" r="2.1"/>
<circle cx="302.2" cy="758.9" r="2.1"/>
<circle cx="315" cy="752.7" r="2.1"/>
<circle cx="308.8" cy="761.9" r="2.1"/>
<circle cx="299" cy="764.6" r="2.1"/>
<circle cx="284.1" cy="793" r="2.1"/>
<circle cx="341" cy="719.6" r="2.1"/>
<circle cx="292.7" cy="781.9" r="2.1"/>
<circle cx="271.2" cy="802.2" r="2.1"/>
<circle cx="387.1" cy="685.8" r="2.1"/>
<circle cx="314.1" cy="756.8" r="2.1"/>
<circle cx="314.1" cy="746.8" r="2.1"/>
<circle cx="306.1" cy="762.6" r="2.1"/>
<circle cx="282.7" cy="791.9" r="2.1"/>
<circle cx="309.7" cy="768.7" r="2.1"/>
<circle cx="306.6" cy="774.6" r="2.1"/>
<circle cx="305" cy="764.1" r="2.1"/>
<circle cx="291.4" cy="783" r="2.1"/>
<circle cx="304.8" cy="768.7" r="2.1"/>
<circle cx="370.1" cy="689.8" r="2.1"/>
<circle cx="286.4" cy="789.9" r="2.1"/>
<circle cx="340.2" cy="743.3" r="2.1"/>
<circle cx="282.1" cy="782.6" r="2.1"/>
<circle cx="297.9" cy="775.9" r="2.1"/>
<circle cx="341.5" cy="727.6" r="2.1"/>
<circle cx="282.7" cy="790" r="2.1"/>
<circle cx="300.8" cy="769.3" r="2.1"/>
<circle cx="288.1" cy="782.1" r="2.1"/>
<circle cx="331.9" cy="739.8" r="2.1"/>
<circle cx="289.9" cy="777.1" r="2.1"/>
<circle cx="269.5" cy="802.1" r="2.1"/>
<circle cx="343.4" cy="726.6" r="2.1"/>
<circle cx="302.7" cy="765.8" r="2.1"/>
<circle cx="288.5" cy="778.3" r="2.1"/>
<circle cx="271.9" cy="798.4" r="2.1"/>
<circle cx="295.8" cy="771.5" r="2.1"/>
<circle cx="290" cy="774.7" r="2.1"/>
<circle cx="276.7" cy="790.9" r="2.1"/>
<circle cx="301.9" cy="767.3" r="2.1"/>
<circle cx="328.1" cy="744.8" r="2.1"/>
<circle cx="304.2" cy="773.3" r="2.1"/>
<circle cx="321.5" cy="751.3" r="2.1"/>
<circle cx="306.9" cy="770.4" r="2.1"/>
<circle cx="345.3" cy="725.4" r="2.1"/>
<circle cx="386.8" cy="682.5" r="2.1"/>
<circle cx="368.6" cy="721.1" r="2.1"/>
<circle cx="346.4" cy="719.4" r="2.1"/>
<circle cx="284.7" cy="792.4" r="2.1"/>
<circle cx="353.4" cy="714.2" r="2.1"/>
<circle cx="333.6" cy="733.8" r="2.1"/>
<circle cx="329.6" cy="748.8" r="2.1"/>
<circle cx="335.8" cy="740.1" r="2.1"/>
<circle cx="320.1" cy="741" r="2.1"/>
<circle cx="330.8" cy="746.4" r="2.1"/>
<circle cx="375.4" cy="692.2" r="2.1"/>
<circle cx="274.3" cy="796.3" r="2.1"/>
<circle cx="366.3" cy="704.6" r="2.1"/>
<circle cx="325.1" cy="745.9" r="2.1"/>
<circle cx="299.9" cy="773.8" r="2.1"/>
<circle cx="274.4" cy="801.5" r="2.1"/>
<circle cx="277.2" cy="797.4" r="2.1"/>
<circle cx="297" cy="776.3" r="2.1"/>
<circle cx="310" cy="757.9" r="2.1"/>
<circle cx="281.1" cy="783.9" r="2.1"/>
<circle cx="380" cy="700.6" r="2.1"/>
<circle cx="287.4" cy="785.6" r="2.1"/>
<circle cx="318.7" cy="751.4" r="2.1"/>
<circle cx="359.2" cy="710.6" r="2.1"/>
<circle cx="281.6" cy="790.9" r="2.1"/>
<circle cx="319.7" cy="749.3" r="2.1"/>
<circle cx="363.6" cy="706.7" r="2.1"/>
<circle cx="287.3" cy="777.2" r="2.1"/>
<circle cx="298.5" cy="767.5" r="2.1"/>
<circle cx="315.5" cy="761.3" r="2.1"/>
<circle cx="289.9" cy="778.9" r="2.1"/>
<circle cx="333.8" cy="734.5" r="2.1"/>
<circle cx="386.7" cy="683.9" r="2.1"/>
<circle cx="344.1" cy="723.4" r="2.1"/>
<circle cx="284.4" cy="791.1" r="2.1"/>
<circle cx="321.2" cy="753.7" r="2.1"/>
<circle cx="332.9" cy="745.3" r="2.1"/>
<circle cx="319.6" cy="749" r="2.1"/>
<circle cx="371.5" cy="694.8" r="2.1"/>
<circle cx="379.7" cy="686.6" r="2.1"/>
<circle cx="327.7" cy="738" r="2.1"/>
<circle cx="319.9" cy="757.8" r="2.1"/>
<circle cx="346.1" cy="714.3" r="2.1"/>
<circle cx="277.1" cy="792.9" r="2.1"/>
<circle cx="270.3" cy="802.2" r="2.1"/>
<circle cx="291.1" cy="784.9" r="2.1"/>
<circle cx="286.3" cy="786.7" r="2.1"/>
<circle cx="301.7" cy="763.5" r="2.1"/>
<circle cx="275.5" cy="796.4" r="2.1"/>
<circle cx="300" cy="778" r="2.1"/>
<circle cx="288.9" cy="788.5" r="2.1"/>
<circle cx="308.7" cy="762.9" r="2.1"/>
<circle cx="289.6" cy="775.9" r="2.1"/>
<circle cx="309.5" cy="754.2" r="2.1"/>
<circle cx="316" cy="759.7" r="2.1"/>
<circle cx="302.2" cy="760.9" r="2.1"/>
<circle cx="309.6" cy="756.9" r="2.1"/>
<circle cx="328.7" cy="742.7" r="2.1"/>
<circle cx="307.6" cy="762.5" r="2.1"/>
<circle cx="409.9" cy="671.2" r="2.1"/>
<circle cx="358.8" cy="700.8" r="2.1"/>
<circle cx="342.6" cy="726.5" r="2.1"/>
<circle cx="333.4" cy="739.1" r="2.1"/>
<circle cx="350.9" cy="717.7" r="2.1"/>
<circle cx="326.3" cy="744" r="2.1"/>
<circle cx="366.3" cy="706.3" r="2.1"/>
<circle cx="365.6" cy="714.1" r="2.1"/>
<circle cx="316.5" cy="753.7" r="2.1"/>
<circle cx="318.4" cy="759.6" r="2.1"/>
<circle cx="299.1" cy="769.1" r="2.1"/>
<circle cx="290.3" cy="769.5" r="2.1"/>
<circle cx="303" cy="763.7" r="2.1"/>
<circle cx="277.8" cy="797.2" r="2.1"/>
<circle cx="292.4" cy="783.8" r="2.1"/>
<circle cx="314.6" cy="759.7" r="2.1"/>
<circle cx="283.1" cy="783" r="2.1"/>
<circle cx="287.7" cy="774.3" r="2.1"/>
<circle cx="272.3" cy="799.9" r="2.1"/>
<circle cx="292.4" cy="776.8" r="2.1"/>
<circle cx="303.7" cy="772" r="2.1"/>
<circle cx="268.3" cy="805" r="2.1"/>
<circle cx="274.1" cy="799.7" r="2.1"/>
<circle cx="325.7" cy="755.9" r="2.1"/>
<circle cx="305.9" cy="766.7" r="2.1"/>
<circle cx="403.6" cy="664.6" r="2.1"/>
<circle cx="298.6" cy="760.6" r="2.1"/>
<circle cx="277.9" cy="798.8" r="2.1"/>
<circle cx="332.2" cy="735.2" r="2.1"/>
<circle cx="319.2" cy="757.1" r="2.1"/>
<circle cx="287.9" cy="778.1" r="2.1"/>
<circle cx="288.9" cy="779.3" r="2.1"/>
<circle cx="388.1" cy="687.6" r="2.1"/>
<circle cx="313.1" cy="751.4" r="2.1"/>
<circle cx="293.7" cy="773.3" r="2.1"/>
<circle cx="297.2" cy="779.7" r="2.1"/>
<circle cx="290" cy="778" r="2.1"/>
<circle cx="287.8" cy="787.7" r="2.1"/>
<circle cx="403.5" cy="687.7" r="2.1"/>
<circle cx="280.4" cy="794.7" r="2.1"/>
<circle cx="277.5" cy="789.9" r="2.1"/>
<circle cx="273.3" cy="796.6" r="2.1"/>
<circle cx="310.9" cy="751.6" r="2.1"/>
<circle cx="268.1" cy="803.3" r="2.1"/>
<circle cx="298.5" cy="763.1" r="2.1"/>
<circle cx="339.7" cy="723.9" r="2.1"/>
<circle cx="289.3" cy="786.9" r="2.1"/>
<circle cx="314.3" cy="755.2" r="2.1"/>
<circle cx="379.1" cy="699.1" r="2.1"/>
<circle cx="289.1" cy="781.2" r="2.1"/>
<circle cx="353.4" cy="728" r="2.1"/>
<circle cx="283.2" cy="788.3" r="2.1"/>
<circle cx="278.5" cy="790.5" r="2.1"/>
<circle cx="288.7" cy="781.6" r="2.1"/>
<circle cx="308" cy="761.9" r="2.1"/>
<circle cx="270.6" cy="805.1" r="2.1"/>
<circle cx="328.5" cy="739.7" r="2.1"/>
<circle cx="294.4" cy="778.5" r="2.1"/>
<circle cx="276.6" cy="794.7" r="2.1"/>
<circle cx="356.9" cy="713.1" r="2.1"/>
<circle cx="324.1" cy="751.1" r="2.1"/>
<circle cx="281" cy="785.1" r="2.1"/>
<circle cx="383.1" cy="684.1" r="2.1"/>
<circle cx="298.4" cy="773.1" r="2.1"/>
<circle cx="272.5" cy="800.5" r="2.1"/>
<circle cx="352.4" cy="724.1" r="2.1"/>
<circle cx="303.6" cy="761.8" r="2.1"/>
<circle cx="298.3" cy="779" r="2.1"/>
<circle cx="274.8" cy="794.3" r="2.1"/>
<circle cx="311.3" cy="755" r="2.1"/>
<circle cx="282.3" cy="790.4" r="2.1"/>
<circle cx="271.9" cy="799.4" r="2.1"/>
<circle cx="307" cy="760.5" r="2.1"/>
<circle cx="309.4" cy="758.9" r="2.1"/>
<circle cx="332.9" cy="742.9" r="2.1"/>
<circle cx="312.3" cy="757.4" r="2.1"/>
<circle cx="316.5" cy="756.9" r="2.1"/>
<circle cx="282.8" cy="788.3" r="2.1"/>
<circle cx="276.2" cy="798.7" r="2.1"/>
<circle cx="336" cy="740.4" r="2.1"/>
<circle cx="287.6" cy="781" r="2.1"/>
<circle cx="321.5" cy="749.9" r="2.1"/>
<circle cx="309.2" cy="769.1" r="2.1"/>
<circle cx="271.3" cy="792.8" r="2.1"/>
<circle cx="379.8" cy="692.2" r="2.1"/>
<circle cx="295.9" cy="777" r="2.1"/>
<circle cx="284.3" cy="781.8" r="2.1"/>
<circle cx="292.3" cy="773" r="2.1"/>
<circle cx="287.3" cy="771.7" r="2.1"/>
<circle cx="334" cy="739.5" r="2.1"/>
<circle cx="335.7" cy="727.6" r="2.1"/>
<circle cx="271.2" cy="800.1" r="2.1"/>
<circle cx="345.2" cy="731.9" r="2.1"/>
<circle cx="284.1" cy="781.7" r="2.1"/>
<circle cx="333.4" cy="741" r="2.1"/>
<circle cx="283.8" cy="783" r="2.1"/>
<circle cx="298.1" cy="770.2" r="2.1"/>
<circle cx="329.2" cy="733.9" r="2.1"/>
<circle cx="281.2" cy="789.2" r="2.1"/>
<circle cx="327.2" cy="744.9" r="2.1"/>
<circle cx="296.6" cy="776" r="2.1"/>
<circle cx="291.2" cy="772.6" r="2.1"/>
<circle cx="277.1" cy="792.4" r="2.1"/>
<circle cx="280.1" cy="788.8" r="2.1"/>
<circle cx="289.8" cy="784.3" r="2.1"/>
<circle cx="292.1" cy="785.3" r="2.1"/>
<circle cx="346.2" cy="729.5" r="2.1"/>
<circle cx="291.4" cy="770.9" r="2.1"/>
<circle cx="289.9" cy="784.8" r="2.1"/>
<circle cx="280.9" cy="789.8" r="2.1"/>
<circle cx="285.1" cy="779.1" r="2.1"/>
<circle cx="276.9" cy="790.9" r="2.1"/>
<circle cx="295.5" cy="778.7" r="2.1"/>
<circle cx="378.8" cy="691" r="2.1"/>
<circle cx="271.8" cy="801" r="2.1"/>
<circle cx="283.9" cy="794" r="2.1"/>
<circle cx="273.1" cy="797.1" r="2.1"/>
<circle cx="283.6" cy="777.5" r="2.1"/>
<circle cx="304" cy="765.1" r="2.1"/>
<circle cx="297" cy="779.7" r="2.1"/>
<circle cx="322.5" cy="746.1" r="2.1"/>
<circle cx="301.1" cy="770.7" r="2.1"/>
<circle cx="365" cy="708.9" r="2.1"/>
<circle cx="308.8" cy="761.4" r="2.1"/>
<circle cx="303.6" cy="756.6" r="2.1"/>
<circle cx="288" cy="784" r="2.1"/>
<circle cx="318.6" cy="750.3" r="2.1"/>
<circle cx="312.4" cy="761.6" r="2.1"/>
<circle cx="305.8" cy="761.3" r="2.1"/>
<circle cx="304.6" cy="772.6" r="2.1"/>
<circle cx="343.2" cy="724" r="2.1"/>
<circle cx="301.7" cy="761.8" r="2.1"/>
<circle cx="316.7" cy="755.5" r="2.1"/>
<circle cx="352.8" cy="730.1" r="2.1"/>
<circle cx="397.3" cy="672.4" r="2.1"/>
<circle cx="311.1" cy="758.6" r="2.1"/>
<circle cx="275.1" cy="798" r="2.1"/>
<circle cx="296.4" cy="771.5" r="2.1"/>
<circle cx="343.2" cy="731.2" r="2.1"/>
<circle cx="317.3" cy="747.9" r="2.1"/>
<circle cx="303.2" cy="767.4" r="2.1"/>
<circle cx="284" cy="789.4" r="2.1"/>
<circle cx="322.2" cy="747.8" r="2.1"/>
<circle cx="289.9" cy="776.1" r="2.1"/>
<circle cx="328.9" cy="744.5" r="2.1"/>
<circle cx="276.4" cy="796.2" r="2.1"/>
<circle cx="286.9" cy="781" r="2.1"/>
<circle cx="322.9" cy="747" r="2.1"/>
<circle cx="269.9" cy="797.1" r="2.1"/>
<circle cx="307.4" cy="764.9" r="2.1"/>
<circle cx="296.8" cy="779.4" r="2.1"/>
<circle cx="351.9" cy="727.2" r="2.1"/>
<circle cx="268.8" cy="800" r="2.1"/>
<circle cx="287.8" cy="780.8" r="2.1"/>
<circle cx="283.9" cy="794.7" r="2.1"/>
<circle cx="310.2" cy="755.8" r="2.1"/>
<circle cx="343" cy="724.4" r="2.1"/>
<circle cx="348.6" cy="719.8" r="2.1"/>
<circle cx="296.9" cy="781" r="2.1"/>
<circle cx="293.2" cy="783.2" r="2.1"/>
<circle cx="291.6" cy="774.4" r="2.1"/>
<circle cx="360.2" cy="711" r="2.1"/>
<circle cx="267.5" cy="804.3" r="2.1"/>
<circle cx="319.9" cy="750.7" r="2.1"/>
<circle cx="295.6" cy="782.3" r="2.1"/>
<circle cx="326.5" cy="740.3" r="2.1"/>
<circle cx="269.4" cy="801.1" r="2.1"/>
<circle cx="316.7" cy="756.8" r="2.1"/>
<circle cx="344.9" cy="718.8" r="2.1"/>
<circle cx="367.5" cy="713.5" r="2.1"/>
<circle cx="334.4" cy="733.9" r="2.1"/>
<circle cx="292.5" cy="777.8" r="2.1"/>
<circle cx="296.9" cy="767.1" r="2.1"/>
<circle cx="280.3" cy="789.3" r="2.1"/>
<circle cx="374.7" cy="703.7" r="2.1"/>
<circle cx="319.4" cy="758.9" r="2.1"/>
<circle cx="290.7" cy="774" r="2.1"/>
<circle cx="327.8" cy="754" r="2.1"/>
<circle cx="276.6" cy="791.2" r="2.1"/>
<circle cx="269.1" cy="802.1" r="2.1"/>
<circle cx="268.5" cy="803.5" r="2.1"/>
<circle cx="286.2" cy="789" r="2.1"/>
<circle cx="276.8" cy="797.4" r="2.1"/>
<circle cx="327.6" cy="741.7" r="2.1"/>
<circle cx="323.2" cy="742.6" r="2.1"/>
<circle cx="302.9" cy="769.4" r="2.1"/>
<circle cx="324.4" cy="743.9" r="2.1"/>
<circle cx="279.9" cy="791.8" r="2.1"/>
<circle cx="278.8" cy="795" r="2.1"/>
<circle cx="268.6" cy="801.4" r="2.1"/>
<circle cx="325.7" cy="744.2" r="2.1"/>
<circle cx="316.5" cy="750.9" r="2.1"/>
<circle cx="343.5" cy="731.1" r="2.1"/>
<circle cx="359.2" cy="715" r="2.1"/>
<circle cx="276.6" cy="792.7" r="2.1"/>
<circle cx="284.8" cy="782.8" r="2.1"/>
<circle cx="288.7" cy="779" r="2.1"/>
<circle cx="304.9" cy="771" r="2.1"/>
<circle cx="275.7" cy="786" r="2.1"/>
<circle cx="278.4" cy="792.1" r="2.1"/>
<circle cx="379" cy="708" r="2.1"/>
<circle cx="360.4" cy="703.4" r="2.1"/>
<circle cx="376.3" cy="698.6" r="2.1"/>
<circle cx="267.7" cy="803.4" r="2.1"/>
<circle cx="316.1" cy="761.3" r="2.1"/>
<circle cx="271.8" cy="795.1" r="2.1"/>
<circle cx="346.9" cy="736.5" r="2.1"/>
<circle cx="303.1" cy="757.2" r="2.1"/>
<circle cx="297.8" cy="781.9" r="2.1"/>
<circle cx="291.3" cy="781.4" r="2.1"/>
<circle cx="375.3" cy="714.7" r="2.1"/>
<circle cx="352.2" cy="727.3" r="2.1"/>
<circle cx="279.3" cy="795.5" r="2.1"/>
<circle cx="362.8" cy="700" r="2.1"/>
<circle cx="319.5" cy="757.7" r="2.1"/>
<circle cx="393.2" cy="678.7" r="2.1"/>
<circle cx="289.3" cy="785.3" r="2.1"/>
<circle cx="349.4" cy="723.2" r="2.1"/>
<circle cx="322.8" cy="750.8" r="2.1"/>
<circle cx="267" cy="805.3" r="2.1"/>
<circle cx="275.7" cy="795.6" r="2.1"/>
<circle cx="319.9" cy="751" r="2.1"/>
<circle cx="292.2" cy="775" r="2.1"/>
<circle cx="320.9" cy="740.3" r="2.1"/>
<circle cx="276.9" cy="795.8" r="2.1"/>
<circle cx="276.1" cy="796.9" r="2.1"/>
<circle cx="356.9" cy="700.6" r="2.1"/>
<circle cx="312.2" cy="747.1" r="2.1"/>
<circle cx="339.8" cy="723.8" r="2.1"/>
<circle cx="377.1" cy="704.1" r="2.1"/>
<circle cx="302.1" cy="765.3" r="2.1"/>
<circle cx="296" cy="773.1" r="2.1"/>
<circle cx="301.9" cy="769.1" r="2.1"/>
<circle cx="267.5" cy="802.3" r="2.1"/>
<circle cx="307.3" cy="757.8" r="2.1"/>
<circle cx="293.2" cy="784.9" r="2.1"/>
<circle cx="287.8" cy="779.9" r="2.1"/>
<circle cx="274.2" cy="798.2" r="2.1"/>
<circle cx="286.4" cy="789.2" r="2.1"/>
<circle cx="382.1" cy="689.1" r="2.1"/>
<circle cx="282.3" cy="795" r="2.1"/>
<circle cx="273" cy="796.8" r="2.1"/>
<circle cx="320.8" cy="751" r="2.1"/>
<circle cx="334.1" cy="730.7" r="2.1"/>
<circle cx="292.4" cy="780.7" r="2.1"/>
<circle cx="276.4" cy="797.8" r="2.1"/>
<circle cx="328.1" cy="745.6" r="2.1"/>
<circle cx="391.2" cy="673" r="2.1"/>
<circle cx="293.8" cy="773.4" r="2.1"/>
<circle cx="301.2" cy="760.9" r="2.1"/>
<circle cx="298.8" cy="773.2" r="2.1"/>
<circle cx="329.8" cy="746.8" r="2.1"/>
<circle cx="335.1" cy="732.7" r="2.1"/>
<circle cx="331.3" cy="746.9" r="2.1"/>
<circle cx="278.8" cy="795.4" r="2.1"/>
<circle cx="280.3" cy="792.9" r="2.1"/>
<circle cx="282.5" cy="789.6" r="2.1"/>
<circle cx="367.1" cy="699.4" r="2.1"/>
<circle cx="309.6" cy="761.4" r="2.1"/>
<circle cx="320.5" cy="745.5" r="2.1"/>
<circle cx="294.4" cy="786.3" r="2.1"/>
<circle cx="297.5" cy="766.8" r="2.1"/>
<circle cx="323" cy="751.4" r="2.1"/>
<circle cx="294.2" cy="769.2" r="2.1"/>
<circle cx="271.7" cy="801.4" r="2.1"/>
<circle cx="295.2" cy="777.8" r="2.1"/>
<circle cx="286.8" cy="785.1" r="2.1"/>
<circle cx="349" cy="726.6" r="2.1"/>
<circle cx="281.9" cy="781.1" r="2.1"/>
<circle cx="329.5" cy="740.6" r="2.1"/>
<circle cx="371" cy="712.5" r="2.1"/>
<circle cx="274.3" cy="793.8" r="2.1"/>
<circle cx="294" cy="779.4" r="2.1"/>
<circle cx="342.9" cy="732" r="2.1"/>
<circle cx="273.9" cy="798.3" r="2.1"/>
<circle cx="339.5" cy="738.9" r="2.1"/>
<circle cx="289.7" cy="787.5" r="2.1"/>
<circle cx="351.3" cy="734.5" r="2.1"/>
<circle cx="276.1" cy="798.1" r="2.1"/>
<circle cx="315.2" cy="751.6" r="2.1"/>
<circle cx="320.1" cy="759.1" r="2.1"/>
<circle cx="267.5" cy="804.7" r="2.1"/>
<circle cx="336.1" cy="733.7" r="2.1"/>
<circle cx="295.1" cy="773.8" r="2.1"/>
<circle cx="273.2" cy="792.4" r="2.1"/>
<circle cx="308" cy="769.5" r="2.1"/>
<circle cx="295.9" cy="777.2" r="2.1"/>
<circle cx="306.7" cy="768.3" r="2.1"/>
<circle cx="322.4" cy="743.6" r="2.1"/>
<circle cx="379.5" cy="698.8" r="2.1"/>
<circle cx="377.2" cy="688.4" r="2.1"/>
<circle cx="275.7" cy="797" r="2.1"/>
<circle cx="273.1" cy="792.9" r="2.1"/>
<circle cx="298.1" cy="780.8" r="2.1"/>
<circle cx="353.3" cy="719.4" r="2.1"/>
<circle cx="319.9" cy="742.7" r="2.1"/>
<circle cx="296.8" cy="767.9" r="2.1"/>
<circle cx="324.9" cy="747" r="2.1"/>
<circle cx="391.5" cy="686.6" r="2.1"/>
<circle cx="270.3" cy="800" r="2.1"/>
<circle cx="322.6" cy="743.5" r="2.1"/>
<circle cx="335.6" cy="749.2" r="2.1"/>
<circle cx="423" cy="639.9" r="2.1"/>
<circle cx="433.1" cy="624.7" r="2.1"/>
<circle cx="431.7" cy="616" r="2.1"/>
<circle cx="415.1" cy="635.2" r="2.1"/>
<circle cx="419.5" cy="641" r="2.1"/>
<circle cx="425.6" cy="640" r="2.1"/>
<circle cx="428.7" cy="625.7" r="2.1"/>
<circle cx="427.2" cy="624.6" r="2.1"/>
<circle cx="435.2" cy="614.8" r="2.1"/>
<circle cx="425.4" cy="625.1" r="2.1"/>
<circle cx="427.8" cy="636.3" r="2.1"/>
<circle cx="430.3" cy="620.4" r="2.1"/>
<circle cx="424.2" cy="631.9" r="2.1"/>
<circle cx="430.8" cy="615.6" r="2.1"/>
</g>
<g fill="#FF0000">
<circle cx="267.2" cy="804.8" r="1.15"/>
<circle cx="273.1" cy="798.9" r="1.15"/>
<circle cx="279" cy="793" r="1.15"/>
<circle cx="284.9" cy="787.1" r="1.15"/>
<circle cx="290.7" cy="781.2" r="1.15"/>
<circle cx="296.6" cy="775.4" r="1.15"/>
<circle cx="302.5" cy="769.5" r="1.15"/>
<circle cx="308.4" cy="763.6" r="1.15"/>
<circle cx="314.3" cy="757.7" r="1.15"/>
<circle cx="320.2" cy="751.8" r="1.15"/>
<circle cx="326.1" cy="745.9" r="1.15"/>
<circle cx="332" cy="740" r="1.15"/>
<circle cx="337.8" cy="734.1" r="1.15"/>
<circle cx="343.7" cy="728.2" r="1.15"/>
<circle cx="349.6" cy="722.3" r="1.15"/>
<circle cx="355.5" cy="716.5" r="1.15"/>
<circle cx="361.4" cy="710.6" r="1.15"/>
<circle cx="367.3" cy="704.7" r="1.15"/>
<circle cx="373.2" cy="698.8" r="1.15"/>
<circle cx="379.1" cy="692.9" r="1.15"/>
<circle cx="384.9" cy="687" r="1.15"/>
<circle cx="390.8" cy="681.1" r="1.15"/>
<circle cx="396.7" cy="675.2" r="1.15"/>
<circle cx="402.6" cy="669.3" r="1.15"/>
<circle cx="408.5" cy="663.4" r="1.15"/>
<circle cx="414.4" cy="657.6" r="1.15"/>
<circle cx="420.3" cy="651.7" r="1.15"/>
<circle cx="426.1" cy="645.8" r="1.15"/>
<circle cx="432" cy="639.9" r="1.15"/>
<circle cx="437.9" cy="634" r="1.15"/>
<circle cx="443.8" cy="628.1" r="1.15"/>
<circle cx="449.7" cy="622.2" r="1.15"/>
<circle cx="455.6" cy="616.3" r="1.15"/>
<circle cx="461.5" cy="610.4" r="1.15"/>
<circle cx="467.4" cy="604.5" r="1.15"/>
<circle cx="473.2" cy="598.7" r="1.15"/>
<circle cx="479.1" cy="592.8" r="1.15"/>
<circle cx="485" cy="586.9" r="1.15"/>
<circle cx="490.9" cy="581" r="1.15"/>
<circle cx="496.8" cy="575.1" r="1.15"/>
<circle cx="502.7" cy="569.2" r="1.15"/>
<circle cx="508.6" cy="563.3" r="1.15"/>
<circle cx="514.5" cy="557.4" r="1.15"/>
<circle cx="520.3" cy="551.5" r="1.15"/>
<circle cx="526.2" cy="545.6" r="1.15"/>
<circle cx="532.1" cy="539.8" r="1.15"/>
<circle cx="538" cy="533.9" r="1.15"/>
<circle cx="543.9" cy="528" r="1.15"/>
<circle cx="549.8" cy="522.1" r="1.15"/>
<circle cx="555.7" cy="516.2" r="1.15"/>
<circle cx="561.5" cy="510.3" r="1.15"/>
<circle cx="567.4" cy="504.4" r="1.15"/>
<circle cx="573.3" cy="498.5" r="1.15"/>
<circle cx="579.2" cy="492.6" r="1.15"/>
<circle cx="585.1" cy="486.7" r="1.15"/>
<circle cx="591" cy="480.9" r="1.15"/>
<circle cx="596.9" cy="475" r="1.15"/>
<circle cx="602.8" cy="469.1" r="1.15"/>
<circle cx="608.6" cy="463.2" r="1.15"/>
<circle cx="614.5" cy="457.3" r="1.15"/>
<circle cx="620.4" cy="451.4" r="1.15"/>
<circle cx="626.3" cy="445.5" r="1.15"/>
<circle cx="632.2" cy="439.6" r="1.15"/>
<circle cx="638.1" cy="433.7" r="1.15"/>
<circle cx="644" cy="427.8" r="1.15"/>
<circle cx="649.9" cy="422" r="1.15"/>
<circle cx="655.7" cy="416.1" r="1.15"/>
<circle cx="661.6" cy="410.2" r="1.15"/>
<circle cx="667.5" cy="404.3" r="1.15"/>
<circle cx="673.4" cy="398.4" r="1.15"/>
<circle cx="679.3" cy="392.5" r="1.15"/>
<circle cx="685.2" cy="386.6" r="1.15"/>
<circle cx="691.1" cy="380.7" r="1.15"/>
<circle cx="697" cy="374.8" r="1.15"/>
<circle cx="702.8" cy="368.9" r="1.15"/>
<circle cx="708.7" cy="363.1" r="1.15"/>
<circle cx="714.6" cy="357.2" r="1.15"/>
<circle cx="720.5" cy="351.3" r="1.15"/>
<circle cx="726.4" cy="345.4" r="1.15"/>
<circle cx="732.3" cy="339.5" r="1.15"/>
<circle cx="738.2" cy="333.6" r="1.15"/>
<circle cx="744" cy="327.7" r="1.15"/>
<circle cx="749.9" cy="321.8" r="1.15"/>
<circle cx="755.8" cy="315.9" r="1.15"/>
<circle cx="761.7" cy="310" r="1.15"/>
<circle cx="767.6" cy="304.2" r="1.15"/>
<circle cx="773.5" cy="298.3" r="1.15"/>
<circle cx="779.4" cy="292.4" r="1.15"/>
<circle cx="785.3" cy="286.5" r="1.15"/>
<circle cx="791.1" cy="280.6" r="1.15"/>
<circle cx="797" cy="274.7" r="1.15"/>
<circle cx="802.9" cy="268.8" r="1.15"/>
<circle cx="808.8" cy="262.9" r="1.15"/>
<circle cx="814.7" cy="257" r="1.15"/>
<circle cx="820.6" cy="251.1" r="1.15"/>
<circle cx="826.5" cy="245.3" r="1.15"/>
<circle cx="832.4" cy="239.4" r="1.15"/>
<circle cx="838.2" cy="233.5" r="1.15"/>
<circle cx="844.1" cy="227.6" r="1.15"/>
<circle cx="850" cy="221.7" r="1.15"/>
<circle cx="855.9" cy="215.8" r="1.15"/>
<circle cx="861.8" cy="209.9" r="1.15"/>
<circle cx="867.7" cy="204" r="1.15"/>
<circle cx="873.6" cy="198.1" r="1.15"/>
<circle cx="879.4" cy="192.2" r="1.15"/>
<circle cx="885.3" cy="186.4" r="1.15"/>
<circle cx="891.2" cy="180.5" r="1.15"/>
<circle cx="897.1" cy="174.6" r="1.15"/>
<circle cx="903" cy="168.7" r="1.15"/>
<circle cx="908.9" cy="162.8" r="1.15"/>
<circle cx="914.8" cy="156.9" r="1.15"/>
<circle cx="920.7" cy="151" r="1.15"/>
<circle cx="926.5" cy="145.1" r="1.15"/>
<circle cx="932.4" cy="139.2" r="1.15"/>
<circle cx="938.3" cy="133.3" r="1.15"/>
<circle cx="944.2" cy="127.5" r="1.15"/>
<circle cx="950.1" cy="121.6" r="1.15"/>
<circle cx="956" cy="115.7" r="1.15"/>
<circle cx="961.9" cy="109.8" r="1.15"/>
<circle cx="967.8" cy="103.9" r="1.15"/>
<circle cx="973.6" cy="98" r="1.15"/>
<circle cx="979.5" cy="92.1" r="1.15"/>
<circle cx="985.4" cy="86.2" r="1.15"/>
<circle cx="991.3" cy="80.3" r="1.15"/>
<circle cx="997.2" cy="74.4" r="1.15"/>
</g>
<text class="tk" x="266.1" y="829.8" text-anchor="middle">0</text>
<text class="tk" x="371.1" y="829.8" text-anchor="middle">0.5</text>
<text class="tk" x="476.3" y="829.8" text-anchor="middle">1</text>
<text class="tk" x="581.5" y="829.8" text-anchor="middle">1.5</text>
<text class="tk" x="686.8" y="829.8" text-anchor="middle">2</text>
<text class="tk" x="792" y="829.8" text-anchor="middle">2.5</text>
<text class="tk" x="897.1" y="829.8" text-anchor="middle">3</text>
<text class="tk" x="256.8" y="810.2" text-anchor="end">0</text>
<text class="tk" x="256.8" y="704.4" text-anchor="end">0.5</text>
<text class="tk" x="256.8" y="599.4" text-anchor="end">1</text>
<text class="tk" x="256.8" y="494.4" text-anchor="end">1.5</text>
<text class="tk" x="256.8" y="389.4" text-anchor="end">2</text>
<text class="tk" x="256.8" y="283.4" text-anchor="end">2.5</text>
<text class="tk" x="256.8" y="178.4" text-anchor="end">3</text>
<text class="lb" x="632" y="856.9" text-anchor="middle">full</text>
<text class="lb" transform="translate(216 438.3) rotate(-90)" text-anchor="middle">accel</text>
<text class="tt" x="632.5" y="59.8" text-anchor="middle">lowrank</text>
</svg></body></html>
